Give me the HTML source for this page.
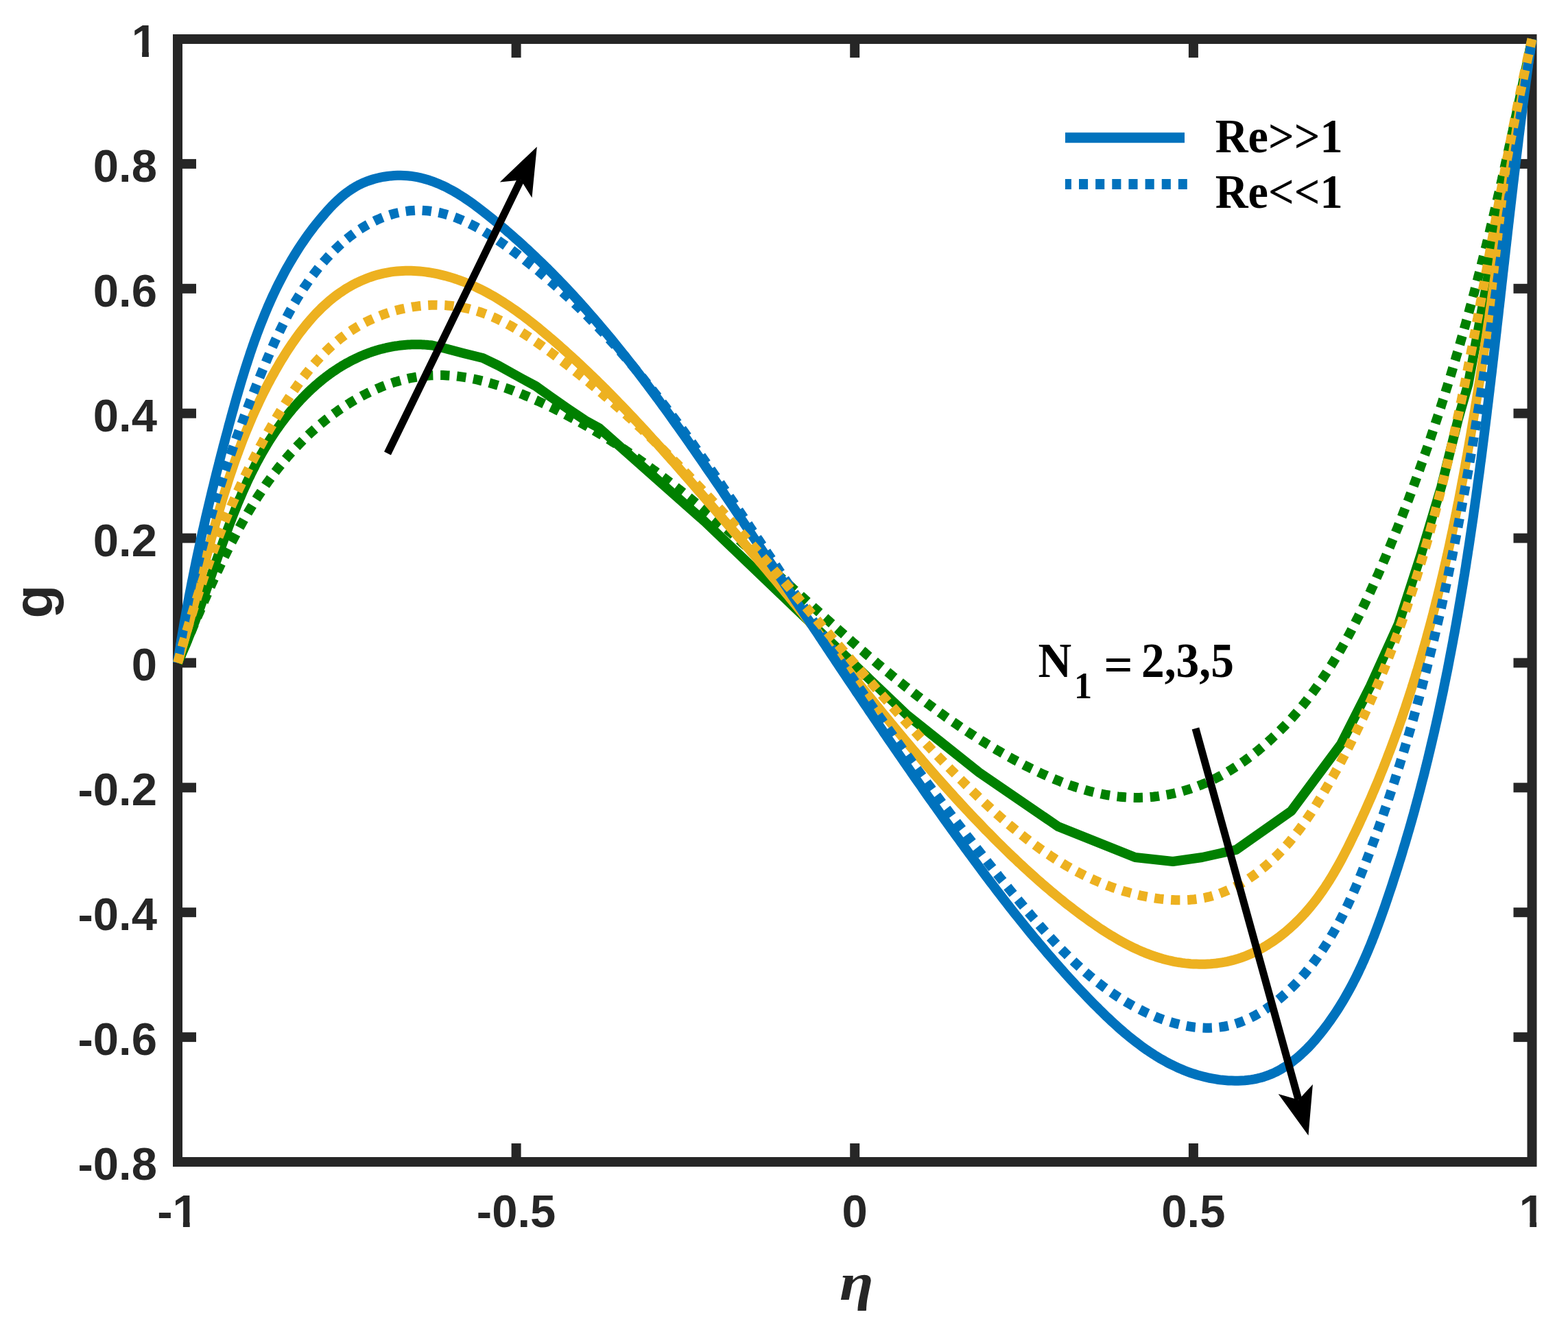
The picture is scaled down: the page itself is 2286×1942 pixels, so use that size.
<!DOCTYPE html>
<html><head><meta charset="utf-8"><style>
html,body{margin:0;padding:0;background:#fff;}
body{width:2286px;height:1942px;overflow:hidden;}
svg{display:block;}
</style></head><body>
<svg xmlns="http://www.w3.org/2000/svg" width="2286" height="1942" viewBox="0 0 2286 1942">
<rect width="2286" height="1942" fill="#fff"/>
<g stroke="#262626" stroke-width="14" fill="none">
<rect x="259.0" y="57.0" width="1974.5" height="1637.0" stroke-linejoin="miter"/>
<line x1="752.6" y1="1694.0" x2="752.6" y2="1667.0"/>
<line x1="752.6" y1="57.0" x2="752.6" y2="84.0"/>
<line x1="1246.2" y1="1694.0" x2="1246.2" y2="1667.0"/>
<line x1="1246.2" y1="57.0" x2="1246.2" y2="84.0"/>
<line x1="1739.9" y1="1694.0" x2="1739.9" y2="1667.0"/>
<line x1="1739.9" y1="57.0" x2="1739.9" y2="84.0"/>
<line x1="259.0" y1="238.9" x2="286.0" y2="238.9"/>
<line x1="2233.5" y1="238.9" x2="2206.5" y2="238.9"/>
<line x1="259.0" y1="420.8" x2="286.0" y2="420.8"/>
<line x1="2233.5" y1="420.8" x2="2206.5" y2="420.8"/>
<line x1="259.0" y1="602.7" x2="286.0" y2="602.7"/>
<line x1="2233.5" y1="602.7" x2="2206.5" y2="602.7"/>
<line x1="259.0" y1="784.6" x2="286.0" y2="784.6"/>
<line x1="2233.5" y1="784.6" x2="2206.5" y2="784.6"/>
<line x1="259.0" y1="966.4" x2="286.0" y2="966.4"/>
<line x1="2233.5" y1="966.4" x2="2206.5" y2="966.4"/>
<line x1="259.0" y1="1148.3" x2="286.0" y2="1148.3"/>
<line x1="2233.5" y1="1148.3" x2="2206.5" y2="1148.3"/>
<line x1="259.0" y1="1330.2" x2="286.0" y2="1330.2"/>
<line x1="2233.5" y1="1330.2" x2="2206.5" y2="1330.2"/>
<line x1="259.0" y1="1512.1" x2="286.0" y2="1512.1"/>
<line x1="2233.5" y1="1512.1" x2="2206.5" y2="1512.1"/>
</g>
<path d="M259.0,966.4 L260.1,964.2 L261.1,961.9 L262.1,959.6 L263.2,957.4 L264.2,955.1 L265.2,952.8 L266.2,950.5 L267.2,948.2 L268.2,945.8 L269.2,943.5 L270.2,941.2 L271.2,938.9 L272.1,936.5 L273.1,934.2 L274.0,931.9 L275.0,929.5 L275.9,927.1 L276.9,924.8 L277.8,922.4 L278.8,920.1 L279.7,917.7 L280.6,915.3 L281.5,912.9 L282.4,910.5 L283.4,908.1 L284.3,905.7 L285.2,903.3 L286.1,900.9 L287.0,898.5 L287.9,896.1 L288.7,893.7 L289.6,891.3 L290.5,888.9 L291.4,886.4 L292.3,884.0 L293.1,881.6 L294.0,879.2 L294.9,876.7 L295.7,874.3 L296.6,871.8 L297.5,869.4 L298.3,867.0 L299.2,864.5 L300.1,862.1 L300.9,859.6 L301.8,857.2 L302.6,854.7 L303.5,852.3 L304.3,849.8 L305.2,847.3 L306.0,844.9 L306.9,842.4 L307.7,840.0 L308.6,837.5 L309.4,835.0 L310.3,832.6 L311.2,830.1 L312.0,827.6 L312.9,825.2 L313.7,822.7 L314.6,820.2 L315.4,817.8 L316.3,815.3 L317.2,812.8 L318.0,810.4 L318.9,807.9 L319.8,805.4 L320.6,803.0 L321.5,800.5 L322.4,798.0 L323.2,795.6 L324.1,793.1 L325.0,790.6 L325.9,788.2 L326.8,785.7 L327.7,783.3 L328.6,780.8 L329.5,778.3 L330.4,775.9 L331.3,773.4 L332.2,771.0 L333.1,768.5 L334.0,766.1 L334.9,763.7 L335.9,761.2 L336.8,758.8 L337.7,756.3 L338.7,753.9 L339.6,751.5 L340.6,749.0 L341.6,746.6 L342.5,744.2 L343.5,741.8 L344.5,739.4 L345.4,737.0 L346.4,734.5 L347.4,732.1 L348.4,729.7 L349.4,727.3 L350.5,725.0 L351.5,722.6 L352.5,720.2 L353.5,717.8 L354.6,715.4 L355.6,713.1 L356.7,710.7 L357.8,708.3 L358.9,706.0 L359.9,703.6 L361.0,701.3 L362.1,698.9 L363.2,696.6 L364.4,694.3 L365.5,691.9 L366.6,689.6 L367.8,687.3 L368.9,685.0 L370.1,682.7 L371.3,680.4 L372.4,678.1 L373.6,675.8 L374.8,673.5 L376.1,671.3 L377.3,669.0 L378.5,666.7 L379.8,664.5 L381.0,662.2 L382.3,660.0 L383.6,657.8 L384.9,655.5 L386.2,653.3 L387.5,651.1 L388.8,648.9 L390.1,646.7 L391.5,644.5 L392.8,642.3 L394.2,640.2 L395.6,638.0 L397.0,635.9 L398.4,633.7 L399.8,631.6 L401.3,629.4 L402.7,627.3 L404.2,625.2 L405.7,623.1 L407.2,621.0 L408.7,618.9 L410.2,616.8 L411.7,614.8 L413.3,612.7 L414.8,610.7 L416.4,608.6 L418.0,606.6 L419.6,604.6 L421.2,602.6 L422.8,600.6 L424.5,598.6 L426.1,596.6 L427.8,594.7 L429.5,592.7 L431.2,590.8 L432.9,588.9 L434.6,587.0 L436.4,585.1 L438.1,583.2 L439.9,581.3 L441.7,579.5 L443.5,577.6 L445.3,575.8 L447.1,574.0 L448.9,572.2 L450.8,570.4 L452.6,568.7 L454.5,566.9 L456.4,565.2 L458.3,563.5 L460.2,561.8 L462.1,560.1 L464.1,558.5 L466.0,556.8 L468.0,555.2 L469.9,553.6 L471.9,552.0 L473.9,550.5 L475.9,548.9 L478.0,547.4 L480.0,545.9 L482.1,544.4 L484.1,542.9 L486.2,541.5 L488.3,540.1 L490.4,538.7 L492.5,537.3 L494.7,535.9 L496.8,534.6 L498.9,533.3 L501.1,532.0 L503.3,530.7 L505.5,529.5 L507.7,528.3 L509.9,527.1 L512.1,525.9 L514.4,524.8 L516.6,523.7 L518.9,522.6 L521.2,521.5 L523.4,520.4 L525.7,519.4 L528.1,518.4 L530.4,517.5 L532.7,516.5 L535.1,515.6 L537.4,514.7 L539.8,513.9 L542.2,513.0 L544.6,512.2 L547.0,511.5 L549.4,510.7 L551.8,510.0 L554.3,509.3 L556.7,508.7 L559.2,508.1 L561.7,507.5 L564.2,506.9 L566.7,506.4 L569.2,505.9 L571.7,505.4 L574.2,504.9 L576.8,504.5 L579.3,504.2 L581.9,503.8 L584.5,503.5 L587.1,503.2 L589.7,503.0 L592.3,502.8 L594.9,502.6 L597.5,502.5 L600.2,502.3 L602.8,502.3 L605.5,502.2 L608.2,502.2 L610.9,502.3 L613.6,502.3 L616.3,502.4 L619.0,502.6 L621.7,502.7 L624.5,503.0 L627.2,503.2 L630.0,503.5 L650.0,508.2 L675.5,515.0 L704.0,522.0 L726.5,532.9 L760.0,551.5 L781.3,563.0 L802.5,578.3 L828.0,596.1 L853.5,613.1 L874.0,624.4 L1027.0,760.0 L1322.5,1042.5 L1427.5,1126.2 L1542.5,1205.0 L1655.0,1250.0 L1710.0,1256.0 L1752.5,1250.0 L1802.5,1238.8 L1882.5,1182.5 L1955.0,1085.0 L1998.0,1000.0 L2038.8,910.0 L2071.2,810.0 L2101.2,710.0 L2126.2,610.0 L2140.5,560.0 L2233.5,57.0" fill="none" stroke="#008000" stroke-width="14" stroke-linejoin="round"/>
<path d="M259.0,966.4 L260.4,963.3 L261.7,960.2 L263.1,957.1 L264.4,954.0 L265.8,950.8 L267.1,947.7 L268.5,944.5 L269.8,941.4 L271.2,938.2 L272.5,935.0 L273.9,931.9 L275.2,928.7 L276.6,925.5 L277.9,922.3 L279.3,919.1 L280.6,916.0 L282.0,912.8 L283.3,909.6 L284.7,906.4 L286.1,903.2 L287.4,900.0 L288.8,896.8 L290.2,893.6 L291.6,890.4 L292.9,887.1 L294.3,883.9 L295.7,880.7 L297.1,877.5 L298.5,874.3 L299.9,871.1 L301.3,867.9 L302.7,864.7 L304.2,861.5 L305.6,858.3 L307.0,855.1 L308.4,851.8 L309.9,848.6 L311.3,845.4 L312.8,842.2 L314.3,839.0 L315.7,835.8 L317.2,832.7 L318.7,829.5 L320.2,826.3 L321.7,823.1 L323.2,819.9 L324.7,816.7 L326.3,813.6 L327.8,810.4 L329.4,807.3 L330.9,804.1 L332.5,800.9 L334.1,797.8 L335.6,794.7 L337.2,791.5 L338.9,788.4 L340.5,785.3 L342.1,782.2 L343.8,779.1 L345.4,776.0 L347.1,772.9 L348.8,769.8 L350.5,766.7 L352.2,763.6 L353.9,760.6 L355.6,757.5 L357.3,754.5 L359.1,751.5 L360.9,748.4 L362.7,745.4 L364.5,742.4 L366.3,739.4 L368.1,736.4 L369.9,733.5 L371.8,730.5 L373.7,727.6 L375.6,724.6 L377.5,721.7 L379.4,718.8 L381.3,715.9 L383.3,713.0 L385.3,710.1 L387.2,707.2 L389.2,704.4 L391.3,701.5 L393.3,698.7 L395.4,695.9 L397.4,693.1 L399.5,690.3 L401.7,687.5 L403.8,684.8 L405.9,682.0 L408.1,679.3 L410.3,676.6 L412.5,673.9 L414.7,671.2 L417.0,668.6 L419.2,665.9 L421.5,663.3 L423.8,660.7 L426.2,658.1 L428.5,655.5 L430.9,652.9 L433.3,650.4 L435.7,647.9 L438.2,645.4 L440.6,642.9 L443.1,640.4 L445.6,637.9 L448.1,635.5 L450.7,633.1 L453.3,630.7 L455.9,628.3 L458.5,626.0 L461.2,623.6 L463.8,621.3 L466.5,619.0 L469.2,616.8 L472.0,614.5 L474.7,612.3 L477.5,610.1 L480.3,608.0 L483.1,605.8 L486.0,603.7 L488.9,601.6 L491.7,599.6 L494.6,597.5 L497.6,595.5 L500.5,593.6 L503.4,591.6 L506.4,589.7 L509.4,587.9 L512.4,586.0 L515.4,584.2 L518.5,582.4 L521.5,580.7 L524.6,579.0 L527.7,577.3 L530.8,575.7 L533.9,574.1 L537.0,572.6 L540.2,571.0 L543.3,569.6 L546.5,568.1 L549.7,566.7 L552.9,565.4 L556.1,564.1 L559.3,562.8 L562.5,561.6 L565.8,560.4 L569.0,559.3 L572.3,558.2 L575.5,557.1 L578.8,556.2 L582.1,555.2 L585.4,554.3 L588.7,553.5 L592.0,552.7 L595.3,551.9 L598.6,551.2 L602.0,550.6 L605.3,550.0 L608.6,549.4 L612.0,548.9 L615.3,548.5 L618.7,548.1 L622.1,547.8 L625.4,547.5 L628.8,547.3 L632.2,547.2 L635.5,547.1 L638.9,547.0 L642.3,547.0 L645.7,547.1 L649.1,547.2 L652.4,547.4 L655.8,547.6 L659.2,547.8 L662.6,548.2 L666.0,548.5 L669.4,548.9 L672.8,549.4 L676.2,549.9 L679.6,550.4 L682.9,551.0 L686.3,551.7 L689.7,552.3 L693.1,553.0 L696.5,553.8 L699.9,554.6 L703.2,555.4 L706.6,556.3 L710.0,557.2 L713.4,558.1 L716.7,559.1 L720.1,560.1 L723.4,561.1 L726.8,562.1 L730.1,563.2 L733.5,564.4 L736.8,565.5 L740.1,566.7 L743.5,567.9 L746.8,569.1 L750.1,570.4 L753.4,571.6 L756.7,572.9 L760.0,574.3 L763.3,575.6 L766.6,577.0 L769.8,578.3 L773.1,579.7 L776.4,581.2 L779.6,582.6 L782.8,584.0 L786.1,585.5 L789.3,587.0 L792.5,588.5 L795.7,590.0 L798.9,591.5 L802.0,593.0 L805.2,594.5 L808.4,596.1 L811.5,597.7 L814.7,599.2 L817.8,600.8 L820.9,602.4 L824.0,604.0 L827.1,605.7 L830.2,607.3 L833.3,609.0 L836.4,610.6 L839.5,612.3 L842.5,614.0 L845.6,615.7 L848.6,617.4 L851.7,619.1 L854.7,620.8 L857.7,622.6 L860.7,624.3 L863.7,626.1 L866.7,627.9 L869.7,629.7 L872.7,631.5 L875.7,633.3 L878.6,635.1 L881.6,636.9 L884.5,638.7 L887.5,640.6 L890.4,642.4 L893.3,644.3 L896.3,646.2 L899.2,648.1 L902.1,650.0 L905.0,651.9 L907.9,653.8 L910.8,655.7 L913.6,657.7 L916.5,659.6 L919.4,661.5 L922.3,663.5 L925.1,665.5 L928.0,667.5 L930.8,669.4 L933.6,671.4 L936.5,673.4 L939.3,675.5 L942.1,677.5 L944.9,679.5 L947.7,681.5 L950.5,683.6 L953.3,685.6 L956.1,687.7 L958.9,689.8 L961.7,691.8 L964.4,693.9 L967.2,696.0 L970.0,698.1 L972.7,700.2 L975.5,702.3 L978.2,704.4 L981.0,706.6 L983.7,708.7 L986.4,710.8 L989.2,713.0 L991.9,715.1 L994.6,717.3 L997.3,719.5 L1000.0,721.6 L1002.7,723.8 L1005.4,726.0 L1008.1,728.2 L1010.8,730.4 L1013.5,732.6 L1016.2,734.8 L1018.9,737.0 L1021.6,739.2 L1024.2,741.4 L1026.9,743.6 L1029.6,745.9 L1032.2,748.1 L1034.9,750.3 L1037.6,752.6 L1040.2,754.8 L1042.9,757.1 L1045.5,759.4 L1048.2,761.6 L1050.8,763.9 L1053.4,766.2 L1056.1,768.4 L1058.7,770.7 L1061.3,773.0 L1064.0,775.3 L1066.6,777.6 L1069.2,779.9 L1071.8,782.2 L1074.4,784.5 L1077.1,786.8 L1079.7,789.1 L1082.3,791.4 L1084.9,793.7 L1087.5,796.0 L1090.1,798.3 L1092.7,800.7 L1095.3,803.0 L1097.9,805.3 L1100.5,807.6 L1103.1,810.0 L1105.7,812.3 L1108.3,814.6 L1110.9,817.0 L1113.5,819.3 L1116.1,821.7 L1118.7,824.0 L1121.2,826.3 L1123.8,828.7 L1126.4,831.0 L1129.0,833.4 L1131.6,835.7 L1134.2,838.1 L1136.8,840.4 L1139.3,842.8 L1141.9,845.1 L1144.5,847.5 L1147.1,849.8 L1149.7,852.2 L1152.2,854.5 L1154.8,856.9 L1157.4,859.3 L1160.0,861.6 L1162.6,864.0 L1165.2,866.3 L1167.7,868.7 L1170.3,871.0 L1172.9,873.4 L1175.5,875.7 L1178.1,878.1 L1180.7,880.4 L1183.3,882.8 L1185.8,885.1 L1188.4,887.5 L1191.0,889.8 L1193.6,892.2 L1196.2,894.5 L1198.8,896.9 L1201.4,899.2 L1204.0,901.6 L1206.6,903.9 L1209.2,906.2 L1211.8,908.6 L1214.4,910.9 L1217.0,913.2 L1219.6,915.6 L1222.2,917.9 L1224.8,920.2 L1227.4,922.5 L1230.0,924.8 L1232.7,927.2 L1235.3,929.5 L1237.9,931.8 L1240.5,934.1 L1243.1,936.4 L1245.8,938.7 L1248.4,941.0 L1251.0,943.3 L1253.7,945.6 L1256.3,947.9 L1259.0,950.1 L1261.6,952.4 L1264.2,954.7 L1266.9,957.0 L1269.6,959.2 L1272.2,961.5 L1274.9,963.7 L1277.5,966.0 L1280.2,968.3 L1282.9,970.5 L1285.6,972.7 L1288.2,975.0 L1290.9,977.2 L1293.6,979.4 L1296.3,981.6 L1299.0,983.9 L1301.7,986.1 L1304.4,988.3 L1307.1,990.5 L1309.8,992.7 L1312.5,994.8 L1315.3,997.0 L1318.0,999.2 L1320.7,1001.4 L1323.4,1003.5 L1326.2,1005.7 L1328.9,1007.8 L1331.7,1010.0 L1334.4,1012.1 L1337.2,1014.3 L1340.0,1016.4 L1342.7,1018.5 L1345.5,1020.6 L1348.3,1022.7 L1351.1,1024.8 L1353.9,1026.9 L1356.7,1029.0 L1359.5,1031.0 L1362.3,1033.1 L1365.1,1035.2 L1367.9,1037.2 L1370.7,1039.3 L1373.6,1041.3 L1376.4,1043.3 L1379.2,1045.4 L1382.1,1047.4 L1385.0,1049.4 L1387.8,1051.4 L1390.7,1053.3 L1393.6,1055.3 L1396.5,1057.3 L1399.3,1059.2 L1402.2,1061.2 L1405.1,1063.1 L1408.1,1065.1 L1411.0,1067.0 L1413.9,1068.9 L1416.8,1070.8 L1419.8,1072.7 L1422.7,1074.6 L1425.7,1076.5 L1428.6,1078.3 L1431.6,1080.2 L1434.6,1082.0 L1437.6,1083.9 L1440.6,1085.7 L1443.6,1087.5 L1446.6,1089.3 L1449.6,1091.1 L1452.6,1092.9 L1455.6,1094.7 L1458.7,1096.4 L1461.7,1098.2 L1464.8,1099.9 L1467.8,1101.7 L1470.9,1103.4 L1474.0,1105.1 L1477.1,1106.8 L1480.2,1108.5 L1483.3,1110.1 L1486.4,1111.8 L1489.5,1113.4 L1492.7,1115.1 L1495.8,1116.7 L1499.0,1118.3 L1502.1,1119.9 L1505.3,1121.4 L1508.5,1123.0 L1511.7,1124.5 L1514.8,1126.0 L1518.0,1127.5 L1521.2,1129.0 L1524.5,1130.4 L1527.7,1131.9 L1530.9,1133.3 L1534.1,1134.6 L1537.4,1136.0 L1540.6,1137.3 L1543.9,1138.6 L1547.1,1139.9 L1550.4,1141.2 L1553.6,1142.4 L1556.9,1143.6 L1560.2,1144.8 L1563.5,1145.9 L1566.8,1147.0 L1570.1,1148.1 L1573.4,1149.1 L1576.7,1150.1 L1580.0,1151.1 L1583.3,1152.1 L1586.7,1153.0 L1590.0,1153.9 L1593.3,1154.7 L1596.7,1155.5 L1600.0,1156.3 L1603.4,1157.0 L1606.7,1157.7 L1610.1,1158.3 L1613.4,1159.0 L1616.8,1159.5 L1620.2,1160.0 L1623.5,1160.5 L1626.9,1161.0 L1630.3,1161.4 L1633.7,1161.7 L1637.1,1162.0 L1640.5,1162.3 L1643.8,1162.5 L1647.2,1162.7 L1650.6,1162.8 L1654.0,1162.9 L1657.5,1162.9 L1660.9,1162.9 L1664.3,1162.8 L1667.7,1162.7 L1671.1,1162.5 L1674.5,1162.3 L1677.9,1162.0 L1681.3,1161.7 L1684.7,1161.3 L1688.2,1160.9 L1691.6,1160.4 L1695.0,1159.9 L1698.4,1159.3 L1701.8,1158.7 L1705.1,1158.1 L1708.5,1157.3 L1711.9,1156.6 L1715.3,1155.8 L1718.6,1154.9 L1722.0,1154.1 L1725.3,1153.1 L1728.7,1152.1 L1732.0,1151.1 L1735.3,1150.1 L1738.6,1148.9 L1741.9,1147.8 L1745.2,1146.6 L1748.5,1145.3 L1751.7,1144.1 L1754.9,1142.7 L1758.2,1141.4 L1761.4,1140.0 L1764.6,1138.5 L1767.7,1137.0 L1770.9,1135.5 L1774.0,1133.9 L1777.1,1132.3 L1780.2,1130.7 L1783.3,1129.0 L1786.4,1127.3 L1789.4,1125.5 L1792.4,1123.7 L1795.4,1121.9 L1798.4,1120.0 L1801.4,1118.1 L1804.3,1116.2 L1807.2,1114.2 L1810.1,1112.2 L1813.0,1110.2 L1815.9,1108.2 L1818.7,1106.1 L1821.5,1104.0 L1824.3,1101.9 L1827.1,1099.8 L1829.8,1097.6 L1832.6,1095.4 L1835.3,1093.2 L1837.9,1091.0 L1840.6,1088.7 L1843.2,1086.5 L1845.9,1084.2 L1848.5,1081.9 L1851.0,1079.5 L1853.6,1077.2 L1856.1,1074.8 L1858.7,1072.4 L1861.1,1070.0 L1863.6,1067.6 L1866.1,1065.2 L1868.5,1062.7 L1870.9,1060.3 L1873.3,1057.8 L1875.7,1055.3 L1878.0,1052.8 L1880.4,1050.2 L1882.7,1047.7 L1885.0,1045.1 L1887.3,1042.5 L1889.5,1039.9 L1891.8,1037.3 L1894.0,1034.7 L1896.2,1032.0 L1898.4,1029.4 L1900.6,1026.7 L1902.7,1024.0 L1904.9,1021.3 L1907.0,1018.6 L1909.1,1015.8 L1911.2,1013.1 L1913.3,1010.3 L1915.3,1007.5 L1917.3,1004.7 L1919.4,1001.9 L1921.4,999.1 L1923.4,996.3 L1925.3,993.4 L1927.3,990.6 L1929.2,987.7 L1931.2,984.8 L1933.1,982.0 L1935.0,979.1 L1936.9,976.1 L1938.7,973.2 L1940.6,970.3 L1942.4,967.3 L1944.3,964.4 L1946.1,961.4 L1947.9,958.4 L1949.7,955.4 L1951.5,952.5 L1953.2,949.4 L1955.0,946.4 L1956.7,943.4 L1958.4,940.4 L1960.1,937.3 L1961.8,934.3 L1963.5,931.2 L1965.2,928.1 L1966.9,925.1 L1968.5,922.0 L1970.2,918.9 L1971.8,915.8 L1973.4,912.7 L1975.0,909.6 L1976.6,906.4 L1978.2,903.3 L1979.8,900.2 L1981.4,897.0 L1982.9,893.9 L1984.5,890.7 L1986.0,887.6 L1987.6,884.4 L1989.1,881.2 L1990.6,878.1 L1992.1,874.9 L1993.6,871.7 L1995.1,868.5 L1996.6,865.3 L1998.1,862.1 L1999.5,858.9 L2001.0,855.7 L2002.4,852.5 L2003.9,849.3 L2005.3,846.0 L2006.7,842.8 L2008.1,839.6 L2009.6,836.4 L2011.0,833.1 L2012.4,829.9 L2013.8,826.7 L2015.2,823.4 L2016.5,820.2 L2017.9,817.0 L2019.3,813.7 L2020.7,810.5 L2022.0,807.2 L2023.4,804.0 L2024.7,800.8 L2026.1,797.5 L2027.4,794.3 L2028.7,791.0 L2030.1,787.8 L2031.4,784.5 L2032.7,781.3 L2034.0,778.0 L2035.3,774.7 L2036.7,771.5 L2038.0,768.2 L2039.2,765.0 L2040.5,761.7 L2041.8,758.5 L2043.1,755.2 L2044.4,751.9 L2045.6,748.7 L2046.9,745.4 L2048.2,742.1 L2049.4,738.9 L2050.7,735.6 L2051.9,732.3 L2053.2,729.1 L2054.4,725.8 L2055.6,722.5 L2056.9,719.3 L2058.1,716.0 L2059.3,712.7 L2060.5,709.4 L2061.7,706.2 L2062.9,702.9 L2064.1,699.6 L2065.3,696.3 L2066.5,693.0 L2067.7,689.8 L2068.9,686.5 L2070.1,683.2 L2071.2,679.9 L2072.4,676.6 L2073.6,673.3 L2074.7,670.1 L2075.9,666.8 L2077.0,663.5 L2078.2,660.2 L2079.3,656.9 L2080.5,653.6 L2081.6,650.3 L2082.7,647.0 L2083.9,643.7 L2085.0,640.4 L2086.1,637.1 L2087.2,633.8 L2088.3,630.5 L2089.4,627.2 L2090.5,623.9 L2091.6,620.6 L2092.7,617.3 L2093.8,614.0 L2094.9,610.7 L2096.0,607.4 L2097.1,604.1 L2098.1,600.8 L2099.2,597.5 L2100.3,594.2 L2101.3,590.8 L2102.4,587.5 L2103.4,584.2 L2104.5,580.9 L2105.5,577.6 L2106.6,574.3 L2107.6,571.0 L2108.6,567.6 L2109.7,564.3 L2110.7,561.0 L2111.7,557.7 L2112.7,554.4 L2113.8,551.0 L2114.8,547.7 L2115.8,544.4 L2116.8,541.1 L2117.8,537.7 L2118.8,534.4 L2119.8,531.1 L2120.8,527.7 L2121.8,524.4 L2122.7,521.1 L2123.7,517.8 L2124.7,514.4 L2125.7,511.1 L2126.6,507.7 L2127.6,504.4 L2128.6,501.1 L2129.5,497.7 L2130.5,494.4 L2131.4,491.1 L2132.4,487.7 L2133.3,484.4 L2134.3,481.0 L2135.2,477.7 L2136.2,474.3 L2137.1,471.0 L2138.0,467.7 L2139.0,464.3 L2139.9,461.0 L2140.8,457.6 L2141.7,454.3 L2142.6,450.9 L2143.5,447.6 L2144.5,444.2 L2145.4,440.9 L2146.3,437.5 L2147.2,434.2 L2148.1,430.8 L2149.0,427.4 L2149.9,424.1 L2150.7,420.7 L2151.6,417.4 L2152.5,414.0 L2153.4,410.6 L2154.3,407.3 L2155.1,403.9 L2156.0,400.6 L2156.9,397.2 L2157.8,393.8 L2158.6,390.5 L2159.5,387.1 L2160.3,383.7 L2161.2,380.4 L2162.0,377.0 L2162.9,373.6 L2163.7,370.3 L2164.6,366.9 L2165.4,363.5 L2166.3,360.1 L2167.1,356.8 L2168.0,353.4 L2168.8,350.0 L2169.6,346.6 L2170.4,343.3 L2171.3,339.9 L2172.1,336.5 L2172.9,333.1 L2173.7,329.7 L2174.6,326.4 L2175.4,323.0 L2176.2,319.6 L2177.0,316.2 L2177.8,312.8 L2178.6,309.5 L2179.4,306.1 L2180.2,302.7 L2181.0,299.3 L2181.8,295.9 L2182.6,292.5 L2183.4,289.1 L2184.2,285.7 L2185.0,282.3 L2185.8,279.0 L2186.5,275.6 L2187.3,272.2 L2188.1,268.8 L2188.9,265.4 L2189.7,262.0 L2190.4,258.6 L2191.2,255.2 L2192.0,251.8 L2192.7,248.4 L2193.5,245.0 L2194.3,241.6 L2195.0,238.2 L2195.8,234.8 L2196.6,231.4 L2197.3,228.0 L2198.1,224.6 L2198.8,221.2 L2199.6,217.8 L2200.3,214.4 L2201.1,211.0 L2201.8,207.6 L2202.6,204.2 L2203.3,200.7 L2204.1,197.3 L2204.8,193.9 L2205.6,190.5 L2206.3,187.1 L2207.0,183.7 L2207.8,180.3 L2208.5,176.9 L2209.2,173.5 L2210.0,170.0 L2210.7,166.6 L2211.4,163.2 L2212.2,159.8 L2212.9,156.4 L2213.6,153.0 L2214.3,149.5 L2215.1,146.1 L2215.8,142.7 L2216.5,139.3 L2217.2,135.9 L2217.9,132.4 L2218.7,129.0 L2219.4,125.6 L2220.1,122.2 L2220.8,118.7 L2221.5,115.3 L2222.2,111.9 L2222.9,108.5 L2223.7,105.0 L2224.4,101.6 L2225.1,98.2 L2225.8,94.8 L2226.5,91.3 L2227.2,87.9 L2227.9,84.5 L2228.6,81.0 L2229.3,77.6 L2230.0,74.2 L2230.7,70.7 L2231.4,67.3 L2232.1,63.9 L2232.8,60.4 L2233.5,57.0" fill="none" stroke="#008000" stroke-width="14" stroke-linejoin="round" stroke-dasharray="13.3 10.8"/>
<path d="M259.0,966.4 L260.2,962.4 L261.4,958.3 L262.6,954.3 L263.8,950.2 L265.0,946.2 L266.1,942.1 L267.3,938.0 L268.4,934.0 L269.6,929.9 L270.7,925.8 L271.8,921.8 L273.0,917.7 L274.1,913.6 L275.2,909.6 L276.3,905.5 L277.4,901.4 L278.5,897.3 L279.6,893.3 L280.6,889.2 L281.7,885.1 L282.8,881.0 L283.9,877.0 L284.9,872.9 L286.0,868.8 L287.1,864.7 L288.1,860.7 L289.2,856.6 L290.3,852.5 L291.3,848.5 L292.4,844.4 L293.5,840.3 L294.5,836.3 L295.6,832.2 L296.7,828.1 L297.7,824.1 L298.8,820.0 L299.9,815.9 L300.9,811.9 L302.0,807.8 L303.1,803.8 L304.2,799.7 L305.3,795.6 L306.4,791.6 L307.4,787.5 L308.5,783.5 L309.7,779.5 L310.8,775.4 L311.9,771.4 L313.0,767.3 L314.1,763.3 L315.3,759.3 L316.4,755.2 L317.6,751.2 L318.7,747.2 L319.9,743.2 L321.1,739.2 L322.3,735.1 L323.5,731.1 L324.7,727.1 L325.9,723.1 L327.1,719.1 L328.4,715.1 L329.6,711.1 L330.9,707.2 L332.1,703.2 L333.4,699.2 L334.7,695.2 L336.0,691.3 L337.4,687.3 L338.7,683.3 L340.1,679.4 L341.4,675.4 L342.8,671.5 L344.2,667.5 L345.6,663.6 L347.1,659.7 L348.5,655.7 L350.0,651.8 L351.4,647.9 L352.9,644.0 L354.4,640.1 L356.0,636.2 L357.5,632.3 L359.1,628.4 L360.7,624.5 L362.3,620.7 L363.9,616.8 L365.6,612.9 L367.2,609.1 L368.9,605.2 L370.6,601.4 L372.3,597.6 L374.1,593.7 L375.9,589.9 L377.7,586.1 L379.5,582.3 L381.3,578.5 L383.2,574.7 L385.1,570.9 L387.0,567.2 L388.9,563.4 L390.9,559.6 L392.9,555.9 L394.9,552.1 L396.9,548.4 L399.0,544.7 L401.1,540.9 L403.2,537.2 L405.4,533.5 L407.5,529.8 L409.7,526.1 L412.0,522.5 L414.2,518.8 L416.5,515.1 L418.8,511.5 L421.2,507.9 L423.6,504.3 L426.0,500.7 L428.5,497.2 L430.9,493.7 L433.4,490.2 L436.0,486.7 L438.6,483.3 L441.2,479.9 L443.9,476.5 L446.6,473.2 L449.3,470.0 L452.1,466.7 L454.9,463.5 L457.7,460.4 L460.6,457.3 L463.6,454.3 L466.5,451.3 L469.5,448.3 L472.6,445.5 L475.7,442.7 L478.8,439.9 L482.0,437.2 L485.3,434.6 L488.5,432.0 L491.9,429.5 L495.2,427.1 L498.7,424.8 L502.1,422.5 L505.6,420.3 L509.2,418.2 L512.8,416.2 L516.4,414.2 L520.1,412.3 L523.8,410.6 L527.6,408.9 L531.3,407.3 L535.2,405.7 L539.0,404.3 L542.9,403.0 L546.8,401.7 L550.7,400.6 L554.7,399.6 L558.7,398.6 L562.7,397.8 L566.7,397.1 L570.7,396.4 L574.8,395.9 L578.8,395.5 L582.9,395.2 L587.0,394.9 L591.1,394.8 L595.2,394.8 L599.4,394.8 L603.5,395.0 L607.6,395.2 L611.8,395.5 L615.9,395.9 L620.0,396.4 L624.2,397.0 L628.3,397.7 L632.4,398.4 L636.6,399.2 L640.7,400.1 L644.8,401.1 L648.9,402.1 L653.0,403.2 L657.0,404.4 L661.1,405.7 L665.1,407.0 L669.1,408.4 L673.1,409.8 L677.1,411.3 L681.1,412.9 L685.0,414.6 L688.9,416.2 L692.8,418.0 L696.6,419.8 L700.4,421.6 L704.2,423.5 L708.0,425.5 L711.7,427.5 L715.4,429.6 L719.1,431.6 L722.8,433.8 L726.4,436.0 L730.0,438.2 L733.6,440.5 L737.2,442.8 L740.7,445.1 L744.3,447.5 L747.8,449.9 L751.2,452.3 L754.7,454.8 L758.1,457.3 L761.6,459.8 L765.0,462.4 L768.3,464.9 L771.7,467.5 L775.1,470.2 L778.4,472.8 L781.7,475.5 L785.0,478.1 L788.3,480.8 L791.6,483.6 L794.8,486.3 L798.1,489.0 L801.3,491.8 L804.6,494.5 L807.8,497.3 L811.0,500.1 L814.2,502.8 L817.3,505.6 L820.5,508.4 L823.7,511.3 L826.8,514.1 L829.9,516.9 L833.0,519.7 L836.2,522.6 L839.3,525.4 L842.3,528.3 L845.4,531.2 L848.5,534.1 L851.6,537.0 L854.6,539.8 L857.7,542.8 L860.7,545.7 L863.7,548.6 L866.7,551.5 L869.7,554.4 L872.7,557.4 L875.7,560.3 L878.7,563.3 L881.7,566.2 L884.6,569.2 L887.6,572.2 L890.5,575.2 L893.5,578.2 L896.4,581.1 L899.3,584.1 L902.2,587.2 L905.1,590.2 L908.0,593.2 L910.9,596.2 L913.8,599.2 L916.7,602.3 L919.6,605.3 L922.5,608.4 L925.3,611.4 L928.2,614.5 L931.0,617.5 L933.9,620.6 L936.7,623.7 L939.6,626.7 L942.4,629.8 L945.2,632.9 L948.0,636.0 L950.8,639.1 L953.7,642.2 L956.5,645.3 L959.3,648.4 L962.1,651.5 L964.9,654.6 L967.7,657.8 L970.4,660.9 L973.2,664.0 L976.0,667.1 L978.8,670.3 L981.6,673.4 L984.3,676.5 L987.1,679.7 L989.9,682.8 L992.6,686.0 L995.4,689.1 L998.2,692.3 L1000.9,695.4 L1003.7,698.6 L1006.4,701.7 L1009.2,704.9 L1011.9,708.1 L1014.7,711.2 L1017.4,714.4 L1020.2,717.6 L1022.9,720.7 L1025.7,723.9 L1028.4,727.1 L1031.2,730.2 L1033.9,733.4 L1036.7,736.6 L1039.4,739.8 L1042.2,743.0 L1044.9,746.1 L1047.7,749.3 L1050.4,752.5 L1053.2,755.7 L1055.9,758.9 L1058.7,762.0 L1061.4,765.2 L1064.2,768.4 L1066.9,771.6 L1069.7,774.8 L1072.4,777.9 L1075.2,781.1 L1077.9,784.3 L1080.7,787.5 L1083.5,790.7 L1086.2,793.9 L1089.0,797.1 L1091.7,800.2 L1094.4,803.4 L1097.2,806.6 L1099.9,809.8 L1102.7,813.0 L1105.4,816.2 L1108.1,819.4 L1110.8,822.6 L1113.6,825.8 L1116.3,829.0 L1119.0,832.2 L1121.7,835.5 L1124.4,838.7 L1127.1,841.9 L1129.8,845.1 L1132.5,848.3 L1135.2,851.6 L1137.8,854.8 L1140.5,858.0 L1143.2,861.3 L1145.8,864.5 L1148.5,867.7 L1151.1,871.0 L1153.8,874.2 L1156.4,877.5 L1159.1,880.7 L1161.7,884.0 L1164.3,887.2 L1167.0,890.5 L1169.6,893.7 L1172.2,897.0 L1174.9,900.2 L1177.5,903.5 L1180.1,906.8 L1182.7,910.0 L1185.3,913.3 L1188.0,916.6 L1190.6,919.8 L1193.2,923.1 L1195.8,926.4 L1198.4,929.7 L1201.1,932.9 L1203.7,936.2 L1206.3,939.5 L1208.9,942.8 L1211.5,946.0 L1214.1,949.3 L1216.8,952.6 L1219.4,955.9 L1222.0,959.2 L1224.6,962.4 L1227.3,965.7 L1229.9,969.0 L1232.5,972.3 L1235.1,975.6 L1237.8,978.9 L1240.4,982.1 L1243.0,985.4 L1245.7,988.7 L1248.3,992.0 L1250.9,995.3 L1253.6,998.5 L1256.2,1001.8 L1258.9,1005.1 L1261.5,1008.4 L1264.2,1011.7 L1266.8,1014.9 L1269.5,1018.2 L1272.1,1021.5 L1274.8,1024.7 L1277.4,1028.0 L1280.1,1031.3 L1282.8,1034.5 L1285.4,1037.8 L1288.1,1041.1 L1290.8,1044.3 L1293.4,1047.6 L1296.1,1050.8 L1298.8,1054.1 L1301.5,1057.3 L1304.2,1060.6 L1306.9,1063.8 L1309.5,1067.1 L1312.2,1070.3 L1314.9,1073.5 L1317.6,1076.8 L1320.4,1080.0 L1323.1,1083.2 L1325.8,1086.5 L1328.5,1089.7 L1331.2,1092.9 L1333.9,1096.1 L1336.7,1099.3 L1339.4,1102.5 L1342.2,1105.7 L1344.9,1108.9 L1347.6,1112.1 L1350.4,1115.3 L1353.1,1118.5 L1355.9,1121.6 L1358.7,1124.8 L1361.4,1128.0 L1364.2,1131.1 L1367.0,1134.3 L1369.8,1137.4 L1372.6,1140.6 L1375.4,1143.7 L1378.2,1146.9 L1381.0,1150.0 L1383.8,1153.1 L1386.6,1156.2 L1389.4,1159.3 L1392.2,1162.5 L1395.1,1165.6 L1397.9,1168.6 L1400.7,1171.7 L1403.6,1174.8 L1406.4,1177.9 L1409.3,1181.0 L1412.2,1184.0 L1415.0,1187.1 L1417.9,1190.1 L1420.8,1193.2 L1423.7,1196.2 L1426.6,1199.2 L1429.5,1202.2 L1432.4,1205.3 L1435.3,1208.3 L1438.2,1211.3 L1441.2,1214.2 L1444.1,1217.2 L1447.0,1220.2 L1450.0,1223.2 L1452.9,1226.1 L1455.9,1229.1 L1458.9,1232.0 L1461.8,1234.9 L1464.8,1237.9 L1467.8,1240.8 L1470.8,1243.7 L1473.8,1246.6 L1476.8,1249.5 L1479.9,1252.3 L1482.9,1255.2 L1485.9,1258.1 L1489.0,1260.9 L1492.0,1263.8 L1495.1,1266.6 L1498.2,1269.4 L1501.3,1272.2 L1504.4,1275.0 L1507.5,1277.8 L1510.6,1280.6 L1513.8,1283.4 L1516.9,1286.1 L1520.1,1288.9 L1523.2,1291.6 L1526.4,1294.3 L1529.6,1297.1 L1532.8,1299.8 L1536.1,1302.5 L1539.3,1305.1 L1542.6,1307.8 L1545.8,1310.5 L1549.1,1313.1 L1552.4,1315.8 L1555.7,1318.4 L1559.1,1321.0 L1562.4,1323.6 L1565.8,1326.2 L1569.2,1328.8 L1572.6,1331.3 L1576.0,1333.9 L1579.4,1336.4 L1582.9,1338.9 L1586.4,1341.5 L1589.9,1343.9 L1593.4,1346.4 L1596.9,1348.8 L1600.4,1351.3 L1604.0,1353.7 L1607.6,1356.0 L1611.2,1358.3 L1614.8,1360.6 L1618.4,1362.9 L1622.1,1365.1 L1625.8,1367.3 L1629.5,1369.5 L1633.2,1371.6 L1636.9,1373.6 L1640.6,1375.6 L1644.4,1377.6 L1648.2,1379.5 L1652.0,1381.4 L1655.8,1383.2 L1659.7,1385.0 L1663.5,1386.7 L1667.4,1388.3 L1671.3,1389.9 L1675.2,1391.4 L1679.1,1392.8 L1683.1,1394.2 L1687.1,1395.5 L1691.1,1396.7 L1695.1,1397.9 L1699.1,1399.0 L1703.1,1400.0 L1707.2,1400.9 L1711.3,1401.8 L1715.4,1402.6 L1719.5,1403.2 L1723.6,1403.9 L1727.7,1404.4 L1731.9,1404.8 L1736.0,1405.2 L1740.2,1405.5 L1744.3,1405.6 L1748.4,1405.7 L1752.6,1405.8 L1756.7,1405.7 L1760.8,1405.5 L1765.0,1405.3 L1769.1,1404.9 L1773.2,1404.5 L1777.3,1403.9 L1781.3,1403.3 L1785.4,1402.6 L1789.4,1401.8 L1793.4,1400.9 L1797.4,1399.9 L1801.4,1398.8 L1805.3,1397.6 L1809.2,1396.3 L1813.1,1394.9 L1816.9,1393.4 L1820.8,1391.8 L1824.6,1390.2 L1828.3,1388.4 L1832.0,1386.6 L1835.7,1384.7 L1839.4,1382.7 L1843.0,1380.6 L1846.6,1378.5 L1850.2,1376.2 L1853.7,1373.9 L1857.2,1371.6 L1860.6,1369.1 L1864.0,1366.7 L1867.4,1364.1 L1870.7,1361.5 L1874.0,1358.8 L1877.3,1356.0 L1880.5,1353.2 L1883.6,1350.4 L1886.8,1347.5 L1889.8,1344.5 L1892.9,1341.5 L1895.8,1338.5 L1898.8,1335.4 L1901.7,1332.3 L1904.5,1329.1 L1907.3,1325.9 L1910.0,1322.7 L1912.7,1319.4 L1915.4,1316.1 L1918.0,1312.7 L1920.5,1309.4 L1923.1,1305.9 L1925.5,1302.5 L1927.9,1299.1 L1930.3,1295.6 L1932.7,1292.1 L1935.0,1288.5 L1937.3,1285.0 L1939.5,1281.4 L1941.7,1277.8 L1943.9,1274.2 L1946.0,1270.5 L1948.1,1266.9 L1950.2,1263.2 L1952.3,1259.5 L1954.3,1255.8 L1956.3,1252.1 L1958.3,1248.3 L1960.2,1244.6 L1962.2,1240.8 L1964.1,1237.1 L1966.0,1233.3 L1967.9,1229.5 L1969.7,1225.7 L1971.6,1221.9 L1973.4,1218.1 L1975.3,1214.3 L1977.1,1210.5 L1978.9,1206.7 L1980.7,1202.9 L1982.5,1199.0 L1984.2,1195.2 L1986.0,1191.4 L1987.7,1187.5 L1989.5,1183.7 L1991.2,1179.9 L1992.9,1176.0 L1994.6,1172.2 L1996.3,1168.3 L1998.0,1164.5 L1999.7,1160.6 L2001.3,1156.7 L2003.0,1152.9 L2004.6,1149.0 L2006.2,1145.1 L2007.9,1141.2 L2009.5,1137.3 L2011.1,1133.5 L2012.6,1129.6 L2014.2,1125.7 L2015.8,1121.8 L2017.3,1117.9 L2018.9,1114.0 L2020.4,1110.1 L2021.9,1106.2 L2023.4,1102.2 L2024.9,1098.3 L2026.4,1094.4 L2027.9,1090.5 L2029.4,1086.5 L2030.8,1082.6 L2032.3,1078.7 L2033.7,1074.7 L2035.2,1070.8 L2036.6,1066.9 L2038.0,1062.9 L2039.4,1059.0 L2040.8,1055.0 L2042.2,1051.0 L2043.6,1047.1 L2044.9,1043.1 L2046.3,1039.2 L2047.6,1035.2 L2049.0,1031.2 L2050.3,1027.2 L2051.6,1023.3 L2052.9,1019.3 L2054.2,1015.3 L2055.5,1011.3 L2056.8,1007.3 L2058.1,1003.3 L2059.3,999.3 L2060.6,995.3 L2061.8,991.3 L2063.1,987.3 L2064.3,983.3 L2065.5,979.3 L2066.8,975.3 L2068.0,971.3 L2069.2,967.3 L2070.4,963.2 L2071.5,959.2 L2072.7,955.2 L2073.9,951.2 L2075.0,947.1 L2076.2,943.1 L2077.3,939.1 L2078.5,935.0 L2079.6,931.0 L2080.7,926.9 L2081.8,922.9 L2082.9,918.8 L2084.0,914.8 L2085.1,910.7 L2086.2,906.7 L2087.3,902.6 L2088.3,898.6 L2089.4,894.5 L2090.4,890.4 L2091.5,886.4 L2092.5,882.3 L2093.5,878.2 L2094.6,874.2 L2095.6,870.1 L2096.6,866.0 L2097.6,861.9 L2098.6,857.8 L2099.6,853.8 L2100.6,849.7 L2101.5,845.6 L2102.5,841.5 L2103.5,837.4 L2104.4,833.3 L2105.4,829.2 L2106.3,825.1 L2107.3,821.0 L2108.2,816.9 L2109.1,812.8 L2110.1,808.7 L2111.0,804.6 L2111.9,800.5 L2112.8,796.4 L2113.7,792.2 L2114.6,788.1 L2115.4,784.0 L2116.3,779.9 L2117.2,775.8 L2118.1,771.7 L2118.9,767.5 L2119.8,763.4 L2120.6,759.3 L2121.5,755.2 L2122.3,751.0 L2123.2,746.9 L2124.0,742.8 L2124.8,738.6 L2125.6,734.5 L2126.5,730.4 L2127.3,726.2 L2128.1,722.1 L2128.9,717.9 L2129.7,713.8 L2130.5,709.7 L2131.2,705.5 L2132.0,701.4 L2132.8,697.2 L2133.6,693.1 L2134.4,688.9 L2135.1,684.8 L2135.9,680.6 L2136.6,676.5 L2137.4,672.3 L2138.1,668.1 L2138.9,664.0 L2139.6,659.8 L2140.3,655.7 L2141.1,651.5 L2141.8,647.4 L2142.5,643.2 L2143.3,639.0 L2144.0,634.9 L2144.7,630.7 L2145.4,626.5 L2146.1,622.4 L2146.8,618.2 L2147.5,614.0 L2148.2,609.9 L2148.9,605.7 L2149.6,601.5 L2150.3,597.4 L2150.9,593.2 L2151.6,589.0 L2152.3,584.8 L2153.0,580.7 L2153.6,576.5 L2154.3,572.3 L2155.0,568.1 L2155.6,564.0 L2156.3,559.8 L2157.0,555.6 L2157.6,551.4 L2158.3,547.3 L2158.9,543.1 L2159.6,538.9 L2160.2,534.7 L2160.8,530.5 L2161.5,526.4 L2162.1,522.2 L2162.8,518.0 L2163.4,513.8 L2164.0,509.6 L2164.7,505.5 L2165.3,501.3 L2165.9,497.1 L2166.5,492.9 L2167.2,488.7 L2167.8,484.5 L2168.4,480.4 L2169.0,476.2 L2169.6,472.0 L2170.2,467.8 L2170.9,463.6 L2171.5,459.4 L2172.1,455.3 L2172.7,451.1 L2173.3,446.9 L2173.9,442.7 L2174.5,438.5 L2175.1,434.3 L2175.7,430.2 L2176.3,426.0 L2176.9,421.8 L2177.5,417.6 L2178.1,413.4 L2178.7,409.3 L2179.3,405.1 L2179.9,400.9 L2180.5,396.7 L2181.1,392.5 L2181.7,388.3 L2182.3,384.2 L2182.9,380.0 L2183.5,375.8 L2184.1,371.6 L2184.7,367.5 L2185.3,363.3 L2185.9,359.1 L2186.5,354.9 L2187.1,350.7 L2187.7,346.6 L2188.3,342.4 L2188.9,338.2 L2189.5,334.0 L2190.1,329.9 L2190.7,325.7 L2191.3,321.5 L2191.9,317.4 L2192.5,313.2 L2193.1,309.0 L2193.7,304.9 L2194.3,300.7 L2194.9,296.5 L2195.5,292.4 L2196.2,288.2 L2196.8,284.0 L2197.4,279.9 L2198.0,275.7 L2198.6,271.5 L2199.2,267.4 L2199.8,263.2 L2200.4,259.1 L2201.1,254.9 L2201.7,250.7 L2202.3,246.6 L2202.9,242.4 L2203.5,238.3 L2204.2,234.1 L2204.8,230.0 L2205.4,225.8 L2206.0,221.7 L2206.7,217.5 L2207.3,213.4 L2208.0,209.2 L2208.6,205.1 L2209.2,201.0 L2209.9,196.8 L2210.5,192.7 L2211.2,188.5 L2211.8,184.4 L2212.5,180.3 L2213.1,176.1 L2213.8,172.0 L2214.5,167.9 L2215.1,163.7 L2215.8,159.6 L2216.4,155.5 L2217.1,151.4 L2217.8,147.2 L2218.5,143.1 L2219.2,139.0 L2219.8,134.9 L2220.5,130.8 L2221.2,126.7 L2221.9,122.5 L2222.6,118.4 L2223.3,114.3 L2224.0,110.2 L2224.7,106.1 L2225.4,102.0 L2226.1,97.9 L2226.9,93.8 L2227.6,89.7 L2228.3,85.6 L2229.0,81.5 L2229.8,77.4 L2230.5,73.3 L2231.3,69.3 L2232.0,65.2 L2232.7,61.1 L2233.5,57.0" fill="none" stroke="#EDB120" stroke-width="14" stroke-linejoin="round"/>
<path d="M259.0,966.4 L259.7,961.7 L260.5,956.9 L261.2,952.1 L262.0,947.4 L262.8,942.6 L263.6,937.8 L264.3,933.1 L265.1,928.3 L265.9,923.6 L266.8,918.9 L267.6,914.1 L268.4,909.4 L269.2,904.7 L270.1,900.0 L270.9,895.3 L271.8,890.6 L272.6,885.8 L273.5,881.1 L274.4,876.4 L275.3,871.8 L276.2,867.1 L277.1,862.4 L278.0,857.7 L278.9,853.0 L279.8,848.3 L280.8,843.6 L281.7,839.0 L282.7,834.3 L283.6,829.6 L284.6,825.0 L285.5,820.3 L286.5,815.7 L287.5,811.0 L288.5,806.3 L289.5,801.7 L290.5,797.0 L291.5,792.4 L292.5,787.7 L293.5,783.1 L294.6,778.4 L295.6,773.8 L296.7,769.2 L297.7,764.5 L298.8,759.9 L299.8,755.2 L300.9,750.6 L302.0,746.0 L303.1,741.3 L304.2,736.7 L305.3,732.1 L306.4,727.4 L307.5,722.8 L308.6,718.2 L309.7,713.5 L310.9,708.9 L312.0,704.3 L313.1,699.6 L314.3,695.0 L315.4,690.4 L316.6,685.7 L317.8,681.1 L319.0,676.5 L320.1,671.8 L321.3,667.2 L322.5,662.5 L323.7,657.9 L324.9,653.3 L326.1,648.6 L327.4,644.0 L328.6,639.3 L329.8,634.7 L331.1,630.0 L332.3,625.4 L333.5,620.7 L334.8,616.1 L336.1,611.4 L337.3,606.8 L338.6,602.1 L339.9,597.5 L341.2,592.8 L342.5,588.2 L343.8,583.5 L345.1,578.9 L346.5,574.2 L347.8,569.6 L349.2,564.9 L350.5,560.3 L351.9,555.7 L353.3,551.0 L354.8,546.4 L356.2,541.8 L357.6,537.2 L359.1,532.6 L360.6,528.0 L362.1,523.4 L363.6,518.8 L365.1,514.2 L366.7,509.7 L368.2,505.1 L369.8,500.6 L371.4,496.0 L373.1,491.5 L374.7,487.0 L376.4,482.5 L378.1,478.0 L379.8,473.5 L381.6,469.1 L383.4,464.6 L385.2,460.2 L387.0,455.7 L388.9,451.3 L390.7,446.9 L392.6,442.6 L394.6,438.2 L396.5,433.9 L398.5,429.5 L400.6,425.2 L402.6,420.9 L404.7,416.7 L406.8,412.4 L409.0,408.2 L411.2,404.0 L413.4,399.8 L415.6,395.6 L417.9,391.4 L420.2,387.3 L422.6,383.2 L425.0,379.1 L427.4,375.1 L429.9,371.0 L432.4,367.0 L434.9,363.0 L437.5,359.0 L440.1,355.1 L442.8,351.2 L445.5,347.3 L448.2,343.4 L451.0,339.6 L453.9,335.8 L456.7,332.0 L459.6,328.3 L462.6,324.6 L465.6,320.9 L468.7,317.2 L471.8,313.6 L474.9,310.0 L478.1,306.4 L481.3,302.9 L484.6,299.4 L488.0,296.0 L491.4,292.7 L495.0,289.5 L498.6,286.3 L502.3,283.3 L506.1,280.4 L510.0,277.6 L514.0,274.9 L518.1,272.4 L522.3,270.1 L526.7,267.9 L531.2,265.9 L535.8,264.1 L540.5,262.5 L545.2,261.0 L550.1,259.7 L554.9,258.6 L559.9,257.7 L564.8,257.0 L569.7,256.4 L574.6,256.0 L579.5,255.8 L584.3,255.8 L589.1,255.9 L593.9,256.2 L598.6,256.7 L603.2,257.4 L607.8,258.2 L612.4,259.1 L616.9,260.2 L621.3,261.5 L625.8,262.8 L630.2,264.3 L634.5,266.0 L638.8,267.7 L643.1,269.6 L647.4,271.5 L651.6,273.6 L655.7,275.8 L659.9,278.0 L664.0,280.4 L668.0,282.8 L672.1,285.4 L676.1,287.9 L680.1,290.6 L684.0,293.3 L688.0,296.1 L691.9,298.9 L695.8,301.8 L699.6,304.7 L703.5,307.7 L707.3,310.7 L711.1,313.7 L714.9,316.7 L718.6,319.7 L722.4,322.8 L726.1,325.9 L729.8,329.0 L733.5,332.1 L737.2,335.2 L740.8,338.4 L744.5,341.5 L748.1,344.7 L751.7,347.9 L755.3,351.1 L758.9,354.3 L762.4,357.5 L766.0,360.8 L769.5,364.0 L773.0,367.3 L776.5,370.6 L780.0,373.9 L783.4,377.2 L786.9,380.5 L790.3,383.8 L793.7,387.2 L797.2,390.5 L800.5,393.9 L803.9,397.3 L807.3,400.7 L810.6,404.1 L814.0,407.5 L817.3,411.0 L820.6,414.4 L823.9,417.9 L827.2,421.4 L830.4,424.8 L833.7,428.3 L836.9,431.8 L840.1,435.4 L843.4,438.9 L846.6,442.4 L849.7,446.0 L852.9,449.5 L856.1,453.1 L859.2,456.7 L862.4,460.3 L865.5,463.9 L868.6,467.5 L871.7,471.1 L874.8,474.7 L877.9,478.4 L881.0,482.0 L884.1,485.7 L887.1,489.4 L890.2,493.0 L893.2,496.7 L896.2,500.4 L899.2,504.1 L902.2,507.8 L905.2,511.6 L908.2,515.3 L911.2,519.0 L914.2,522.8 L917.1,526.5 L920.1,530.3 L923.0,534.0 L925.9,537.8 L928.8,541.6 L931.8,545.4 L934.7,549.2 L937.6,553.0 L940.4,556.8 L943.3,560.6 L946.2,564.4 L949.1,568.3 L951.9,572.1 L954.8,575.9 L957.6,579.8 L960.5,583.6 L963.3,587.5 L966.1,591.4 L968.9,595.2 L971.8,599.1 L974.6,603.0 L977.4,606.9 L980.2,610.8 L982.9,614.7 L985.7,618.6 L988.5,622.5 L991.3,626.4 L994.0,630.3 L996.8,634.2 L999.6,638.1 L1002.3,642.0 L1005.1,646.0 L1007.8,649.9 L1010.6,653.8 L1013.3,657.8 L1016.0,661.7 L1018.7,665.7 L1021.5,669.6 L1024.2,673.6 L1026.9,677.5 L1029.6,681.5 L1032.3,685.4 L1035.1,689.4 L1037.8,693.3 L1040.5,697.3 L1043.2,701.3 L1045.9,705.2 L1048.6,709.2 L1051.3,713.2 L1054.0,717.1 L1056.6,721.1 L1059.3,725.1 L1062.0,729.1 L1064.7,733.0 L1067.4,737.0 L1070.1,741.0 L1072.8,745.0 L1075.4,749.0 L1078.1,752.9 L1080.8,756.9 L1083.5,760.9 L1086.1,764.9 L1088.8,768.9 L1091.5,772.9 L1094.2,776.8 L1096.8,780.8 L1099.5,784.8 L1102.2,788.8 L1104.8,792.8 L1107.5,796.8 L1110.2,800.8 L1112.8,804.8 L1115.5,808.8 L1118.1,812.8 L1120.8,816.8 L1123.5,820.8 L1126.1,824.7 L1128.8,828.7 L1131.4,832.7 L1134.1,836.7 L1136.7,840.7 L1139.4,844.7 L1142.1,848.7 L1144.7,852.7 L1147.4,856.7 L1150.0,860.7 L1152.7,864.7 L1155.3,868.7 L1158.0,872.7 L1160.6,876.7 L1163.3,880.7 L1165.9,884.7 L1168.6,888.7 L1171.2,892.7 L1173.9,896.7 L1176.5,900.7 L1179.2,904.7 L1181.8,908.7 L1184.5,912.7 L1187.1,916.7 L1189.8,920.7 L1192.5,924.7 L1195.1,928.7 L1197.8,932.6 L1200.4,936.6 L1203.1,940.6 L1205.7,944.6 L1208.4,948.6 L1211.0,952.6 L1213.7,956.6 L1216.4,960.6 L1219.0,964.6 L1221.7,968.6 L1224.3,972.5 L1227.0,976.5 L1229.7,980.5 L1232.3,984.5 L1235.0,988.5 L1237.7,992.5 L1240.3,996.4 L1243.0,1000.4 L1245.7,1004.4 L1248.3,1008.4 L1251.0,1012.3 L1253.7,1016.3 L1256.3,1020.3 L1259.0,1024.3 L1261.7,1028.2 L1264.4,1032.2 L1267.0,1036.2 L1269.7,1040.1 L1272.4,1044.1 L1275.1,1048.1 L1277.8,1052.0 L1280.5,1056.0 L1283.2,1059.9 L1285.9,1063.9 L1288.5,1067.9 L1291.2,1071.8 L1293.9,1075.8 L1296.6,1079.7 L1299.3,1083.7 L1302.0,1087.6 L1304.7,1091.5 L1307.5,1095.5 L1310.2,1099.4 L1312.9,1103.4 L1315.6,1107.3 L1318.3,1111.2 L1321.0,1115.2 L1323.7,1119.1 L1326.5,1123.0 L1329.2,1126.9 L1331.9,1130.9 L1334.7,1134.8 L1337.4,1138.7 L1340.1,1142.6 L1342.9,1146.5 L1345.6,1150.4 L1348.3,1154.4 L1351.1,1158.3 L1353.8,1162.2 L1356.6,1166.1 L1359.4,1170.0 L1362.1,1173.9 L1364.9,1177.7 L1367.6,1181.6 L1370.4,1185.5 L1373.2,1189.4 L1376.0,1193.3 L1378.7,1197.2 L1381.5,1201.0 L1384.3,1204.9 L1387.1,1208.8 L1389.9,1212.7 L1392.7,1216.5 L1395.5,1220.4 L1398.3,1224.2 L1401.1,1228.1 L1403.9,1231.9 L1406.7,1235.8 L1409.5,1239.6 L1412.3,1243.5 L1415.2,1247.3 L1418.0,1251.1 L1420.8,1255.0 L1423.7,1258.8 L1426.5,1262.6 L1429.3,1266.4 L1432.2,1270.3 L1435.0,1274.1 L1437.9,1277.9 L1440.8,1281.7 L1443.6,1285.5 L1446.5,1289.3 L1449.4,1293.1 L1452.3,1296.9 L1455.2,1300.7 L1458.1,1304.4 L1461.0,1308.2 L1463.9,1312.0 L1466.8,1315.7 L1469.7,1319.5 L1472.7,1323.3 L1475.6,1327.0 L1478.6,1330.8 L1481.5,1334.5 L1484.5,1338.2 L1487.5,1342.0 L1490.5,1345.7 L1493.5,1349.4 L1496.5,1353.1 L1499.5,1356.8 L1502.5,1360.5 L1505.5,1364.2 L1508.6,1367.9 L1511.7,1371.6 L1514.7,1375.3 L1517.8,1378.9 L1520.9,1382.6 L1524.0,1386.2 L1527.1,1389.9 L1530.2,1393.5 L1533.4,1397.2 L1536.5,1400.8 L1539.7,1404.4 L1542.9,1408.0 L1546.1,1411.6 L1549.3,1415.2 L1552.5,1418.8 L1555.7,1422.4 L1559.0,1426.0 L1562.2,1429.5 L1565.5,1433.1 L1568.8,1436.7 L1572.1,1440.2 L1575.4,1443.7 L1578.8,1447.3 L1582.1,1450.8 L1585.5,1454.3 L1588.9,1457.8 L1592.3,1461.3 L1595.7,1464.8 L1599.2,1468.2 L1602.6,1471.7 L1606.1,1475.1 L1609.6,1478.5 L1613.1,1481.9 L1616.6,1485.2 L1620.2,1488.6 L1623.8,1491.9 L1627.4,1495.2 L1631.0,1498.4 L1634.7,1501.6 L1638.3,1504.8 L1642.0,1507.9 L1645.7,1511.0 L1649.5,1514.0 L1653.3,1517.0 L1657.1,1519.9 L1660.9,1522.8 L1664.7,1525.7 L1668.6,1528.4 L1672.5,1531.2 L1676.5,1533.8 L1680.4,1536.4 L1684.4,1539.0 L1688.5,1541.5 L1692.5,1543.9 L1696.6,1546.2 L1700.7,1548.5 L1704.9,1550.7 L1709.1,1552.8 L1713.3,1554.8 L1717.6,1556.8 L1721.9,1558.7 L1726.2,1560.5 L1730.6,1562.2 L1735.0,1563.8 L1739.4,1565.3 L1743.9,1566.7 L1748.4,1568.1 L1753.0,1569.3 L1757.6,1570.4 L1762.2,1571.5 L1766.9,1572.4 L1771.6,1573.2 L1776.3,1574.0 L1781.1,1574.6 L1785.9,1575.0 L1790.7,1575.4 L1795.5,1575.6 L1800.3,1575.7 L1805.1,1575.7 L1809.9,1575.5 L1814.7,1575.2 L1819.4,1574.7 L1824.2,1574.1 L1828.8,1573.3 L1833.5,1572.3 L1838.0,1571.2 L1842.5,1569.9 L1847.0,1568.4 L1851.3,1566.8 L1855.6,1565.0 L1859.9,1563.0 L1864.0,1560.8 L1868.1,1558.6 L1872.2,1556.1 L1876.1,1553.6 L1880.0,1550.9 L1883.8,1548.1 L1887.6,1545.1 L1891.3,1542.1 L1894.9,1539.0 L1898.5,1535.7 L1902.0,1532.4 L1905.5,1529.0 L1908.9,1525.5 L1912.2,1521.9 L1915.5,1518.3 L1918.7,1514.6 L1921.8,1510.8 L1924.9,1507.0 L1928.0,1503.2 L1931.0,1499.3 L1933.9,1495.5 L1936.8,1491.5 L1939.6,1487.6 L1942.4,1483.6 L1945.1,1479.6 L1947.8,1475.6 L1950.4,1471.6 L1953.0,1467.5 L1955.5,1463.4 L1958.0,1459.3 L1960.4,1455.2 L1962.8,1451.0 L1965.2,1446.8 L1967.5,1442.6 L1969.8,1438.4 L1972.0,1434.2 L1974.2,1429.9 L1976.4,1425.7 L1978.5,1421.4 L1980.6,1417.1 L1982.6,1412.7 L1984.7,1408.4 L1986.6,1404.0 L1988.6,1399.7 L1990.5,1395.3 L1992.4,1390.9 L1994.3,1386.5 L1996.1,1382.1 L1998.0,1377.6 L1999.8,1373.2 L2001.5,1368.7 L2003.3,1364.3 L2005.0,1359.8 L2006.7,1355.3 L2008.4,1350.8 L2010.0,1346.3 L2011.7,1341.8 L2013.3,1337.3 L2014.9,1332.8 L2016.5,1328.3 L2018.1,1323.8 L2019.7,1319.2 L2021.2,1314.7 L2022.8,1310.2 L2024.3,1305.6 L2025.8,1301.1 L2027.4,1296.5 L2028.9,1292.0 L2030.4,1287.5 L2031.8,1282.9 L2033.3,1278.3 L2034.8,1273.8 L2036.2,1269.2 L2037.7,1264.7 L2039.1,1260.1 L2040.5,1255.5 L2042.0,1251.0 L2043.4,1246.4 L2044.8,1241.8 L2046.1,1237.2 L2047.5,1232.7 L2048.9,1228.1 L2050.2,1223.5 L2051.6,1218.9 L2052.9,1214.3 L2054.3,1209.7 L2055.6,1205.1 L2056.9,1200.6 L2058.2,1196.0 L2059.5,1191.4 L2060.8,1186.8 L2062.1,1182.2 L2063.3,1177.5 L2064.6,1172.9 L2065.8,1168.3 L2067.1,1163.7 L2068.3,1159.1 L2069.5,1154.5 L2070.7,1149.9 L2071.9,1145.2 L2073.1,1140.6 L2074.3,1136.0 L2075.5,1131.4 L2076.7,1126.7 L2077.8,1122.1 L2079.0,1117.5 L2080.1,1112.8 L2081.3,1108.2 L2082.4,1103.5 L2083.5,1098.9 L2084.6,1094.3 L2085.7,1089.6 L2086.8,1085.0 L2087.9,1080.3 L2089.0,1075.7 L2090.1,1071.0 L2091.2,1066.4 L2092.2,1061.7 L2093.3,1057.0 L2094.3,1052.4 L2095.4,1047.7 L2096.4,1043.1 L2097.4,1038.4 L2098.4,1033.7 L2099.4,1029.0 L2100.4,1024.4 L2101.4,1019.7 L2102.4,1015.0 L2103.4,1010.4 L2104.4,1005.7 L2105.3,1001.0 L2106.3,996.3 L2107.2,991.6 L2108.2,986.9 L2109.1,982.3 L2110.1,977.6 L2111.0,972.9 L2111.9,968.2 L2112.8,963.5 L2113.7,958.8 L2114.6,954.1 L2115.5,949.4 L2116.4,944.7 L2117.3,940.0 L2118.2,935.3 L2119.0,930.6 L2119.9,925.9 L2120.8,921.2 L2121.6,916.5 L2122.5,911.8 L2123.3,907.1 L2124.1,902.4 L2125.0,897.6 L2125.8,892.9 L2126.6,888.2 L2127.4,883.5 L2128.2,878.8 L2129.0,874.1 L2129.8,869.3 L2130.6,864.6 L2131.4,859.9 L2132.2,855.2 L2133.0,850.4 L2133.7,845.7 L2134.5,841.0 L2135.3,836.3 L2136.0,831.5 L2136.8,826.8 L2137.5,822.1 L2138.2,817.3 L2139.0,812.6 L2139.7,807.9 L2140.4,803.1 L2141.2,798.4 L2141.9,793.7 L2142.6,788.9 L2143.3,784.2 L2144.0,779.4 L2144.7,774.7 L2145.4,770.0 L2146.1,765.2 L2146.8,760.5 L2147.5,755.7 L2148.2,751.0 L2148.8,746.2 L2149.5,741.5 L2150.2,736.7 L2150.8,732.0 L2151.5,727.2 L2152.2,722.5 L2152.8,717.7 L2153.5,713.0 L2154.1,708.2 L2154.7,703.5 L2155.4,698.7 L2156.0,694.0 L2156.7,689.2 L2157.3,684.5 L2157.9,679.7 L2158.5,674.9 L2159.2,670.2 L2159.8,665.4 L2160.4,660.7 L2161.0,655.9 L2161.6,651.1 L2162.2,646.4 L2162.8,641.6 L2163.4,636.9 L2164.0,632.1 L2164.6,627.3 L2165.2,622.6 L2165.8,617.8 L2166.4,613.0 L2167.0,608.3 L2167.6,603.5 L2168.1,598.7 L2168.7,594.0 L2169.3,589.2 L2169.9,584.4 L2170.4,579.7 L2171.0,574.9 L2171.6,570.1 L2172.1,565.4 L2172.7,560.6 L2173.3,555.8 L2173.8,551.1 L2174.4,546.3 L2175.0,541.5 L2175.5,536.8 L2176.1,532.0 L2176.6,527.2 L2177.2,522.5 L2177.7,517.7 L2178.3,512.9 L2178.8,508.2 L2179.4,503.4 L2179.9,498.6 L2180.5,493.9 L2181.0,489.1 L2181.6,484.3 L2182.1,479.5 L2182.6,474.8 L2183.2,470.0 L2183.7,465.2 L2184.3,460.5 L2184.8,455.7 L2185.3,450.9 L2185.9,446.2 L2186.4,441.4 L2187.0,436.6 L2187.5,431.9 L2188.0,427.1 L2188.6,422.3 L2189.1,417.6 L2189.6,412.8 L2190.2,408.0 L2190.7,403.2 L2191.2,398.5 L2191.8,393.7 L2192.3,388.9 L2192.9,384.2 L2193.4,379.4 L2193.9,374.7 L2194.5,369.9 L2195.0,365.1 L2195.5,360.4 L2196.1,355.6 L2196.6,350.8 L2197.2,346.1 L2197.7,341.3 L2198.2,336.5 L2198.8,331.8 L2199.3,327.0 L2199.9,322.3 L2200.4,317.5 L2201.0,312.7 L2201.5,308.0 L2202.1,303.2 L2202.6,298.5 L2203.2,293.7 L2203.7,289.0 L2204.3,284.2 L2204.8,279.5 L2205.4,274.7 L2205.9,269.9 L2206.5,265.2 L2207.1,260.4 L2207.6,255.7 L2208.2,250.9 L2208.8,246.2 L2209.3,241.4 L2209.9,236.7 L2210.5,231.9 L2211.0,227.2 L2211.6,222.5 L2212.2,217.7 L2212.8,213.0 L2213.4,208.2 L2213.9,203.5 L2214.5,198.7 L2215.1,194.0 L2215.7,189.3 L2216.3,184.5 L2216.9,179.8 L2217.5,175.0 L2218.1,170.3 L2218.7,165.6 L2219.3,160.8 L2219.9,156.1 L2220.5,151.4 L2221.2,146.6 L2221.8,141.9 L2222.4,137.2 L2223.0,132.5 L2223.7,127.7 L2224.3,123.0 L2224.9,118.3 L2225.6,113.6 L2226.2,108.8 L2226.8,104.1 L2227.5,99.4 L2228.1,94.7 L2228.8,90.0 L2229.5,85.3 L2230.1,80.5 L2230.8,75.8 L2231.5,71.1 L2232.1,66.4 L2232.8,61.7 L2233.5,57.0" fill="none" stroke="#0072BD" stroke-width="14" stroke-linejoin="round"/>
<path d="M259.0,966.4 L259.7,962.0 L260.4,957.5 L261.2,953.0 L261.9,948.6 L262.7,944.1 L263.4,939.7 L264.2,935.2 L265.0,930.7 L265.8,926.3 L266.7,921.8 L267.5,917.4 L268.4,912.9 L269.2,908.5 L270.1,904.1 L271.0,899.6 L271.9,895.2 L272.8,890.7 L273.7,886.3 L274.7,881.9 L275.6,877.4 L276.6,873.0 L277.6,868.6 L278.6,864.1 L279.6,859.7 L280.6,855.3 L281.6,850.9 L282.6,846.5 L283.7,842.1 L284.7,837.7 L285.8,833.2 L286.9,828.8 L288.0,824.4 L289.1,820.0 L290.2,815.6 L291.3,811.2 L292.5,806.8 L293.6,802.5 L294.8,798.1 L295.9,793.7 L297.1,789.3 L298.3,784.9 L299.5,780.5 L300.7,776.2 L302.0,771.8 L303.2,767.4 L304.4,763.1 L305.7,758.7 L307.0,754.4 L308.3,750.0 L309.5,745.6 L310.8,741.3 L312.1,736.9 L313.5,732.6 L314.8,728.3 L316.1,723.9 L317.5,719.6 L318.8,715.3 L320.2,710.9 L321.6,706.6 L323.0,702.3 L324.4,698.0 L325.8,693.7 L327.2,689.3 L328.6,685.0 L330.1,680.7 L331.5,676.4 L333.0,672.1 L334.4,667.8 L335.9,663.6 L337.4,659.3 L338.9,655.0 L340.4,650.7 L341.9,646.4 L343.4,642.2 L344.9,637.9 L346.5,633.6 L348.0,629.4 L349.6,625.1 L351.1,620.9 L352.7,616.6 L354.3,612.4 L355.8,608.1 L357.4,603.9 L359.0,599.7 L360.7,595.4 L362.3,591.2 L363.9,587.0 L365.5,582.8 L367.2,578.6 L368.8,574.3 L370.5,570.1 L372.1,565.9 L373.8,561.7 L375.5,557.6 L377.2,553.4 L378.9,549.2 L380.6,545.0 L382.3,540.8 L384.0,536.7 L385.7,532.5 L387.5,528.3 L389.2,524.2 L391.0,520.0 L392.8,515.9 L394.5,511.8 L396.3,507.7 L398.2,503.5 L400.0,499.4 L401.9,495.3 L403.8,491.3 L405.7,487.2 L407.6,483.1 L409.6,479.1 L411.6,475.0 L413.6,471.0 L415.6,467.0 L417.7,463.0 L419.8,459.0 L421.9,455.1 L424.1,451.1 L426.3,447.2 L428.5,443.3 L430.8,439.4 L433.1,435.5 L435.5,431.6 L437.9,427.8 L440.4,423.9 L442.8,420.1 L445.4,416.4 L448.0,412.6 L450.6,408.8 L453.3,405.1 L456.0,401.4 L458.8,397.8 L461.6,394.1 L464.5,390.5 L467.5,386.9 L470.5,383.3 L473.5,379.8 L476.6,376.3 L479.8,372.9 L483.0,369.5 L486.3,366.1 L489.6,362.8 L493.0,359.6 L496.4,356.4 L499.9,353.3 L503.4,350.2 L507.0,347.3 L510.6,344.4 L514.3,341.6 L518.1,338.8 L521.9,336.2 L525.8,333.7 L529.7,331.2 L533.7,328.8 L537.7,326.6 L541.8,324.4 L545.9,322.4 L550.0,320.4 L554.2,318.6 L558.5,316.9 L562.7,315.3 L567.0,313.9 L571.3,312.5 L575.6,311.3 L579.9,310.3 L584.3,309.3 L588.6,308.5 L592.9,307.9 L597.3,307.3 L601.6,307.0 L605.9,306.7 L610.2,306.7 L614.5,306.7 L618.7,307.0 L623.0,307.3 L627.2,307.8 L631.4,308.4 L635.6,309.1 L639.8,309.9 L644.0,310.9 L648.2,312.0 L652.3,313.2 L656.4,314.4 L660.5,315.8 L664.6,317.3 L668.7,318.9 L672.8,320.6 L676.8,322.4 L680.9,324.2 L684.9,326.2 L688.9,328.2 L692.8,330.2 L696.8,332.4 L700.8,334.6 L704.7,336.9 L708.6,339.3 L712.5,341.7 L716.4,344.1 L720.2,346.6 L724.1,349.1 L727.9,351.7 L731.7,354.4 L735.5,357.0 L739.3,359.7 L743.0,362.4 L746.7,365.2 L750.4,367.9 L754.1,370.7 L757.8,373.5 L761.5,376.3 L765.1,379.1 L768.7,382.0 L772.3,384.9 L775.9,387.7 L779.4,390.6 L783.0,393.5 L786.5,396.4 L790.0,399.4 L793.5,402.3 L797.0,405.3 L800.4,408.3 L803.9,411.3 L807.3,414.3 L810.7,417.3 L814.1,420.4 L817.4,423.4 L820.8,426.5 L824.1,429.6 L827.5,432.7 L830.8,435.8 L834.0,438.9 L837.3,442.0 L840.6,445.2 L843.8,448.3 L847.1,451.5 L850.3,454.7 L853.5,457.9 L856.7,461.1 L859.8,464.3 L863.0,467.6 L866.1,470.8 L869.3,474.1 L872.4,477.3 L875.5,480.6 L878.6,483.9 L881.6,487.2 L884.7,490.6 L887.8,493.9 L890.8,497.2 L893.8,500.6 L896.8,503.9 L899.8,507.3 L902.8,510.7 L905.8,514.1 L908.7,517.5 L911.7,520.9 L914.6,524.3 L917.6,527.7 L920.5,531.2 L923.4,534.6 L926.3,538.1 L929.2,541.6 L932.0,545.0 L934.9,548.5 L937.8,552.0 L940.6,555.5 L943.4,559.1 L946.3,562.6 L949.1,566.1 L951.9,569.6 L954.7,573.2 L957.5,576.7 L960.2,580.3 L963.0,583.9 L965.8,587.4 L968.5,591.0 L971.3,594.6 L974.0,598.2 L976.7,601.8 L979.4,605.4 L982.2,609.0 L984.9,612.7 L987.6,616.3 L990.2,619.9 L992.9,623.6 L995.6,627.2 L998.3,630.9 L1000.9,634.5 L1003.6,638.2 L1006.2,641.9 L1008.9,645.5 L1011.5,649.2 L1014.1,652.9 L1016.8,656.6 L1019.4,660.3 L1022.0,664.0 L1024.6,667.7 L1027.2,671.4 L1029.8,675.1 L1032.4,678.8 L1035.0,682.5 L1037.6,686.3 L1040.2,690.0 L1042.8,693.7 L1045.3,697.5 L1047.9,701.2 L1050.5,704.9 L1053.0,708.7 L1055.6,712.4 L1058.1,716.2 L1060.7,719.9 L1063.3,723.7 L1065.8,727.4 L1068.4,731.2 L1070.9,734.9 L1073.4,738.7 L1076.0,742.4 L1078.5,746.2 L1081.1,750.0 L1083.6,753.7 L1086.1,757.5 L1088.7,761.3 L1091.2,765.0 L1093.7,768.8 L1096.2,772.6 L1098.8,776.3 L1101.3,780.1 L1103.8,783.9 L1106.4,787.6 L1108.9,791.4 L1111.4,795.2 L1114.0,798.9 L1116.5,802.7 L1119.0,806.5 L1121.5,810.2 L1124.1,814.0 L1126.6,817.8 L1129.1,821.5 L1131.7,825.3 L1134.2,829.1 L1136.7,832.8 L1139.3,836.6 L1141.8,840.4 L1144.3,844.1 L1146.9,847.9 L1149.4,851.7 L1151.9,855.4 L1154.5,859.2 L1157.0,862.9 L1159.5,866.7 L1162.1,870.5 L1164.6,874.2 L1167.1,878.0 L1169.7,881.7 L1172.2,885.5 L1174.8,889.2 L1177.3,893.0 L1179.9,896.7 L1182.4,900.5 L1184.9,904.2 L1187.5,908.0 L1190.0,911.7 L1192.6,915.5 L1195.1,919.2 L1197.7,923.0 L1200.2,926.7 L1202.8,930.5 L1205.4,934.2 L1207.9,938.0 L1210.5,941.7 L1213.0,945.4 L1215.6,949.2 L1218.2,952.9 L1220.7,956.6 L1223.3,960.4 L1225.9,964.1 L1228.4,967.8 L1231.0,971.6 L1233.6,975.3 L1236.1,979.0 L1238.7,982.8 L1241.3,986.5 L1243.9,990.2 L1246.5,993.9 L1249.0,997.6 L1251.6,1001.4 L1254.2,1005.1 L1256.8,1008.8 L1259.4,1012.5 L1262.0,1016.2 L1264.6,1019.9 L1267.2,1023.6 L1269.8,1027.3 L1272.4,1031.1 L1275.0,1034.8 L1277.6,1038.5 L1280.2,1042.2 L1282.8,1045.9 L1285.4,1049.6 L1288.0,1053.2 L1290.7,1056.9 L1293.3,1060.6 L1295.9,1064.3 L1298.5,1068.0 L1301.2,1071.7 L1303.8,1075.4 L1306.4,1079.0 L1309.1,1082.7 L1311.7,1086.4 L1314.3,1090.1 L1317.0,1093.7 L1319.6,1097.4 L1322.3,1101.1 L1324.9,1104.7 L1327.6,1108.4 L1330.2,1112.1 L1332.9,1115.7 L1335.6,1119.4 L1338.2,1123.0 L1340.9,1126.7 L1343.6,1130.3 L1346.3,1134.0 L1348.9,1137.6 L1351.6,1141.3 L1354.3,1144.9 L1357.0,1148.5 L1359.7,1152.2 L1362.4,1155.8 L1365.1,1159.4 L1367.8,1163.0 L1370.5,1166.7 L1373.2,1170.3 L1375.9,1173.9 L1378.6,1177.5 L1381.4,1181.1 L1384.1,1184.7 L1386.8,1188.3 L1389.5,1191.9 L1392.3,1195.5 L1395.0,1199.1 L1397.8,1202.7 L1400.5,1206.3 L1403.3,1209.9 L1406.0,1213.5 L1408.8,1217.1 L1411.5,1220.7 L1414.3,1224.2 L1417.1,1227.8 L1419.8,1231.4 L1422.6,1234.9 L1425.4,1238.5 L1428.2,1242.1 L1431.0,1245.6 L1433.8,1249.2 L1436.6,1252.7 L1439.4,1256.3 L1442.2,1259.8 L1445.0,1263.4 L1447.8,1266.9 L1450.6,1270.4 L1453.5,1274.0 L1456.3,1277.5 L1459.1,1281.0 L1462.0,1284.5 L1464.8,1288.0 L1467.7,1291.6 L1470.5,1295.1 L1473.4,1298.6 L1476.2,1302.1 L1479.1,1305.6 L1482.0,1309.1 L1484.9,1312.6 L1487.7,1316.0 L1490.6,1319.5 L1493.5,1323.0 L1496.4,1326.5 L1499.3,1330.0 L1502.2,1333.4 L1505.1,1336.9 L1508.1,1340.3 L1511.0,1343.8 L1514.0,1347.2 L1516.9,1350.6 L1519.9,1354.0 L1522.9,1357.4 L1525.9,1360.8 L1528.9,1364.1 L1532.0,1367.5 L1535.0,1370.8 L1538.1,1374.1 L1541.2,1377.4 L1544.3,1380.7 L1547.4,1384.0 L1550.6,1387.2 L1553.8,1390.4 L1557.0,1393.6 L1560.2,1396.8 L1563.4,1399.9 L1566.7,1403.1 L1570.0,1406.2 L1573.3,1409.2 L1576.7,1412.3 L1580.1,1415.3 L1583.5,1418.3 L1587.0,1421.2 L1590.4,1424.2 L1593.9,1427.1 L1597.5,1429.9 L1601.1,1432.7 L1604.7,1435.5 L1608.3,1438.3 L1612.0,1441.0 L1615.7,1443.7 L1619.5,1446.4 L1623.3,1449.0 L1627.2,1451.6 L1631.0,1454.1 L1635.0,1456.6 L1638.9,1459.0 L1642.9,1461.4 L1647.0,1463.8 L1651.0,1466.1 L1655.1,1468.3 L1659.3,1470.5 L1663.4,1472.6 L1667.6,1474.7 L1671.8,1476.7 L1676.0,1478.6 L1680.3,1480.4 L1684.6,1482.2 L1688.8,1483.9 L1693.1,1485.6 L1697.5,1487.1 L1701.8,1488.6 L1706.1,1489.9 L1710.5,1491.2 L1714.8,1492.4 L1719.2,1493.5 L1723.5,1494.5 L1727.9,1495.4 L1732.2,1496.2 L1736.6,1496.9 L1740.9,1497.5 L1745.3,1497.9 L1749.6,1498.3 L1753.9,1498.5 L1758.3,1498.7 L1762.6,1498.7 L1766.8,1498.6 L1771.1,1498.3 L1775.4,1497.9 L1779.6,1497.4 L1783.8,1496.8 L1788.0,1496.0 L1792.2,1495.1 L1796.3,1494.1 L1800.4,1492.9 L1804.5,1491.6 L1808.5,1490.2 L1812.6,1488.6 L1816.6,1487.0 L1820.5,1485.2 L1824.5,1483.3 L1828.4,1481.3 L1832.2,1479.2 L1836.1,1477.0 L1839.9,1474.7 L1843.6,1472.3 L1847.4,1469.8 L1851.1,1467.2 L1854.7,1464.6 L1858.4,1461.8 L1861.9,1459.0 L1865.5,1456.1 L1869.0,1453.1 L1872.5,1450.0 L1875.9,1446.9 L1879.3,1443.7 L1882.6,1440.5 L1885.9,1437.2 L1889.2,1433.8 L1892.4,1430.4 L1895.5,1426.9 L1898.6,1423.4 L1901.7,1419.9 L1904.7,1416.3 L1907.7,1412.6 L1910.6,1409.0 L1913.5,1405.3 L1916.3,1401.5 L1919.1,1397.8 L1921.8,1394.0 L1924.5,1390.2 L1927.1,1386.4 L1929.6,1382.6 L1932.2,1378.7 L1934.6,1374.9 L1937.1,1371.0 L1939.5,1367.1 L1941.8,1363.1 L1944.1,1359.2 L1946.4,1355.2 L1948.6,1351.3 L1950.8,1347.3 L1952.9,1343.3 L1955.0,1339.3 L1957.1,1335.2 L1959.1,1331.2 L1961.1,1327.1 L1963.1,1323.0 L1965.1,1318.9 L1967.0,1314.8 L1968.9,1310.7 L1970.7,1306.6 L1972.6,1302.5 L1974.4,1298.3 L1976.2,1294.2 L1978.0,1290.0 L1979.7,1285.9 L1981.4,1281.7 L1983.1,1277.5 L1984.8,1273.3 L1986.5,1269.1 L1988.2,1264.9 L1989.8,1260.7 L1991.5,1256.5 L1993.1,1252.3 L1994.7,1248.1 L1996.3,1243.9 L1997.9,1239.6 L1999.5,1235.4 L2001.0,1231.2 L2002.6,1226.9 L2004.2,1222.7 L2005.7,1218.5 L2007.2,1214.2 L2008.8,1210.0 L2010.3,1205.7 L2011.8,1201.5 L2013.3,1197.2 L2014.8,1193.0 L2016.3,1188.7 L2017.8,1184.4 L2019.2,1180.2 L2020.7,1175.9 L2022.2,1171.6 L2023.6,1167.3 L2025.0,1163.1 L2026.5,1158.8 L2027.9,1154.5 L2029.3,1150.2 L2030.7,1145.9 L2032.1,1141.6 L2033.5,1137.3 L2034.8,1133.1 L2036.2,1128.8 L2037.6,1124.5 L2038.9,1120.1 L2040.3,1115.8 L2041.6,1111.5 L2042.9,1107.2 L2044.3,1102.9 L2045.6,1098.6 L2046.9,1094.3 L2048.2,1089.9 L2049.5,1085.6 L2050.8,1081.3 L2052.0,1077.0 L2053.3,1072.6 L2054.6,1068.3 L2055.8,1064.0 L2057.1,1059.6 L2058.3,1055.3 L2059.6,1050.9 L2060.8,1046.6 L2062.0,1042.2 L2063.2,1037.9 L2064.4,1033.5 L2065.6,1029.2 L2066.8,1024.8 L2068.0,1020.5 L2069.2,1016.1 L2070.3,1011.7 L2071.5,1007.4 L2072.7,1003.0 L2073.8,998.6 L2074.9,994.3 L2076.1,989.9 L2077.2,985.5 L2078.3,981.1 L2079.5,976.8 L2080.6,972.4 L2081.7,968.0 L2082.8,963.6 L2083.9,959.2 L2084.9,954.8 L2086.0,950.4 L2087.1,946.0 L2088.2,941.7 L2089.2,937.3 L2090.3,932.9 L2091.3,928.5 L2092.4,924.0 L2093.4,919.6 L2094.4,915.2 L2095.4,910.8 L2096.5,906.4 L2097.5,902.0 L2098.5,897.6 L2099.5,893.2 L2100.5,888.8 L2101.5,884.3 L2102.5,879.9 L2103.4,875.5 L2104.4,871.1 L2105.4,866.6 L2106.3,862.2 L2107.3,857.8 L2108.2,853.4 L2109.2,848.9 L2110.1,844.5 L2111.1,840.1 L2112.0,835.6 L2112.9,831.2 L2113.8,826.8 L2114.8,822.3 L2115.7,817.9 L2116.6,813.4 L2117.5,809.0 L2118.4,804.5 L2119.3,800.1 L2120.1,795.6 L2121.0,791.2 L2121.9,786.7 L2122.8,782.3 L2123.6,777.8 L2124.5,773.4 L2125.4,768.9 L2126.2,764.5 L2127.1,760.0 L2127.9,755.6 L2128.7,751.1 L2129.6,746.6 L2130.4,742.2 L2131.2,737.7 L2132.1,733.2 L2132.9,728.8 L2133.7,724.3 L2134.5,719.8 L2135.3,715.4 L2136.1,710.9 L2136.9,706.4 L2137.7,702.0 L2138.5,697.5 L2139.3,693.0 L2140.1,688.5 L2140.9,684.1 L2141.6,679.6 L2142.4,675.1 L2143.2,670.6 L2143.9,666.2 L2144.7,661.7 L2145.5,657.2 L2146.2,652.7 L2147.0,648.2 L2147.7,643.7 L2148.5,639.3 L2149.2,634.8 L2149.9,630.3 L2150.7,625.8 L2151.4,621.3 L2152.1,616.8 L2152.9,612.4 L2153.6,607.9 L2154.3,603.4 L2155.0,598.9 L2155.8,594.4 L2156.5,589.9 L2157.2,585.4 L2157.9,580.9 L2158.6,576.4 L2159.3,571.9 L2160.0,567.5 L2160.7,563.0 L2161.4,558.5 L2162.1,554.0 L2162.8,549.5 L2163.4,545.0 L2164.1,540.5 L2164.8,536.0 L2165.5,531.5 L2166.2,527.0 L2166.8,522.5 L2167.5,518.0 L2168.2,513.5 L2168.9,509.0 L2169.5,504.5 L2170.2,500.0 L2170.9,495.5 L2171.5,491.0 L2172.2,486.5 L2172.8,482.0 L2173.5,477.5 L2174.1,473.1 L2174.8,468.6 L2175.4,464.1 L2176.1,459.6 L2176.7,455.1 L2177.4,450.6 L2178.0,446.1 L2178.7,441.6 L2179.3,437.1 L2180.0,432.6 L2180.6,428.1 L2181.2,423.6 L2181.9,419.1 L2182.5,414.6 L2183.2,410.1 L2183.8,405.6 L2184.4,401.1 L2185.0,396.6 L2185.7,392.1 L2186.3,387.6 L2186.9,383.1 L2187.6,378.6 L2188.2,374.1 L2188.8,369.6 L2189.5,365.2 L2190.1,360.7 L2190.7,356.2 L2191.3,351.7 L2192.0,347.2 L2192.6,342.7 L2193.2,338.2 L2193.8,333.7 L2194.4,329.2 L2195.1,324.7 L2195.7,320.2 L2196.3,315.8 L2196.9,311.3 L2197.6,306.8 L2198.2,302.3 L2198.8,297.8 L2199.4,293.3 L2200.0,288.8 L2200.7,284.4 L2201.3,279.9 L2201.9,275.4 L2202.5,270.9 L2203.2,266.4 L2203.8,262.0 L2204.4,257.5 L2205.0,253.0 L2205.6,248.5 L2206.3,244.0 L2206.9,239.6 L2207.5,235.1 L2208.1,230.6 L2208.8,226.1 L2209.4,221.7 L2210.0,217.2 L2210.7,212.7 L2211.3,208.3 L2211.9,203.8 L2212.6,199.3 L2213.2,194.9 L2213.8,190.4 L2214.5,185.9 L2215.1,181.5 L2215.7,177.0 L2216.4,172.5 L2217.0,168.1 L2217.6,163.6 L2218.3,159.2 L2218.9,154.7 L2219.6,150.3 L2220.2,145.8 L2220.9,141.3 L2221.5,136.9 L2222.2,132.4 L2222.8,128.0 L2223.5,123.5 L2224.1,119.1 L2224.8,114.7 L2225.4,110.2 L2226.1,105.8 L2226.8,101.3 L2227.4,96.9 L2228.1,92.5 L2228.8,88.0 L2229.4,83.6 L2230.1,79.1 L2230.8,74.7 L2231.5,70.3 L2232.1,65.9 L2232.8,61.4 L2233.5,57.0" fill="none" stroke="#0072BD" stroke-width="14" stroke-linejoin="round" stroke-dasharray="13.3 10.8"/>
<path d="M259.0,966.4 L260.1,962.5 L261.2,958.6 L262.3,954.7 L263.4,950.9 L264.5,947.0 L265.6,943.1 L266.7,939.2 L267.8,935.4 L268.9,931.5 L270.0,927.7 L271.2,923.8 L272.3,920.0 L273.4,916.2 L274.6,912.3 L275.7,908.5 L276.9,904.7 L278.1,900.9 L279.2,897.1 L280.4,893.3 L281.6,889.5 L282.8,885.7 L284.0,882.0 L285.2,878.2 L286.4,874.4 L287.6,870.7 L288.8,866.9 L290.0,863.2 L291.2,859.4 L292.5,855.7 L293.7,852.0 L295.0,848.3 L296.2,844.5 L297.5,840.8 L298.8,837.1 L300.1,833.4 L301.4,829.7 L302.7,826.0 L304.0,822.4 L305.3,818.7 L306.6,815.0 L308.0,811.4 L309.3,807.7 L310.6,804.0 L312.0,800.4 L313.4,796.8 L314.7,793.1 L316.1,789.5 L317.5,785.9 L318.9,782.2 L320.4,778.6 L321.8,775.0 L323.2,771.4 L324.7,767.8 L326.1,764.2 L327.6,760.6 L329.1,757.0 L330.5,753.4 L332.0,749.9 L333.5,746.3 L335.1,742.7 L336.6,739.2 L338.1,735.6 L339.7,732.1 L341.3,728.5 L342.8,725.0 L344.4,721.5 L346.0,717.9 L347.6,714.4 L349.2,710.9 L350.9,707.4 L352.5,703.8 L354.2,700.3 L355.8,696.8 L357.5,693.3 L359.2,689.9 L360.9,686.4 L362.7,682.9 L364.4,679.4 L366.1,675.9 L367.9,672.5 L369.7,669.0 L371.5,665.5 L373.3,662.1 L375.1,658.6 L376.9,655.2 L378.7,651.7 L380.6,648.3 L382.5,644.9 L384.3,641.4 L386.2,638.0 L388.2,634.6 L390.1,631.2 L392.0,627.7 L394.0,624.3 L396.0,620.9 L398.0,617.5 L400.0,614.1 L402.0,610.7 L404.0,607.3 L406.1,604.0 L408.1,600.6 L410.2,597.2 L412.3,593.8 L414.4,590.5 L416.6,587.1 L418.7,583.8 L420.9,580.4 L423.1,577.1 L425.3,573.8 L427.5,570.5 L429.8,567.2 L432.1,564.0 L434.4,560.7 L436.7,557.5 L439.0,554.3 L441.4,551.1 L443.8,548.0 L446.2,544.9 L448.7,541.8 L451.2,538.7 L453.7,535.6 L456.2,532.6 L458.8,529.6 L461.4,526.7 L464.0,523.8 L466.7,520.9 L469.4,518.1 L472.1,515.3 L474.9,512.5 L477.7,509.8 L480.5,507.1 L483.4,504.4 L486.3,501.8 L489.2,499.3 L492.2,496.8 L495.2,494.3 L498.3,491.9 L501.4,489.6 L504.5,487.2 L507.7,485.0 L510.9,482.8 L514.1,480.7 L517.4,478.6 L520.8,476.5 L524.1,474.6 L527.6,472.7 L531.0,470.8 L534.5,469.0 L538.0,467.3 L541.6,465.6 L545.2,464.0 L548.8,462.4 L552.5,461.0 L556.2,459.5 L559.9,458.2 L563.6,456.9 L567.4,455.6 L571.1,454.5 L574.9,453.3 L578.7,452.3 L582.6,451.3 L586.4,450.4 L590.3,449.6 L594.2,448.8 L598.1,448.1 L601.9,447.4 L605.9,446.9 L609.8,446.3 L613.7,445.9 L617.6,445.5 L621.5,445.2 L625.5,445.0 L629.4,444.8 L633.3,444.7 L637.2,444.7 L641.1,444.8 L645.0,444.9 L648.9,445.1 L652.8,445.4 L656.7,445.7 L660.6,446.1 L664.4,446.6 L668.2,447.2 L672.1,447.8 L675.9,448.6 L679.6,449.4 L683.4,450.2 L687.1,451.2 L690.8,452.2 L694.5,453.3 L698.2,454.4 L701.9,455.7 L705.5,457.0 L709.1,458.3 L712.7,459.7 L716.3,461.2 L719.9,462.7 L723.4,464.3 L726.9,466.0 L730.4,467.7 L733.9,469.4 L737.4,471.2 L740.9,473.1 L744.3,474.9 L747.7,476.9 L751.1,478.8 L754.5,480.9 L757.9,482.9 L761.3,485.0 L764.6,487.1 L768.0,489.3 L771.3,491.4 L774.6,493.6 L777.9,495.9 L781.2,498.1 L784.5,500.4 L787.7,502.7 L791.0,505.0 L794.2,507.4 L797.5,509.7 L800.7,512.1 L803.9,514.5 L807.1,516.9 L810.3,519.3 L813.5,521.7 L816.6,524.1 L819.8,526.5 L822.9,528.9 L826.1,531.3 L829.2,533.8 L832.3,536.2 L835.5,538.7 L838.6,541.2 L841.7,543.6 L844.8,546.1 L847.8,548.6 L850.9,551.1 L854.0,553.6 L857.0,556.1 L860.1,558.6 L863.1,561.2 L866.1,563.7 L869.1,566.2 L872.2,568.8 L875.2,571.3 L878.2,573.9 L881.1,576.5 L884.1,579.0 L887.1,581.6 L890.1,584.2 L893.0,586.8 L896.0,589.4 L898.9,592.0 L901.8,594.6 L904.8,597.2 L907.7,599.9 L910.6,602.5 L913.5,605.1 L916.4,607.8 L919.3,610.4 L922.2,613.1 L925.0,615.8 L927.9,618.4 L930.8,621.1 L933.6,623.8 L936.5,626.5 L939.3,629.2 L942.1,631.9 L945.0,634.6 L947.8,637.3 L950.6,640.0 L953.4,642.7 L956.2,645.4 L959.0,648.2 L961.8,650.9 L964.6,653.7 L967.4,656.4 L970.1,659.2 L972.9,661.9 L975.7,664.7 L978.4,667.4 L981.2,670.2 L983.9,673.0 L986.7,675.8 L989.4,678.6 L992.1,681.3 L994.9,684.1 L997.6,686.9 L1000.3,689.7 L1003.0,692.6 L1005.7,695.4 L1008.4,698.2 L1011.1,701.0 L1013.8,703.8 L1016.5,706.7 L1019.2,709.5 L1021.9,712.3 L1024.5,715.2 L1027.2,718.0 L1029.9,720.9 L1032.5,723.7 L1035.2,726.6 L1037.8,729.4 L1040.5,732.3 L1043.1,735.2 L1045.8,738.1 L1048.4,740.9 L1051.1,743.8 L1053.7,746.7 L1056.3,749.6 L1058.9,752.5 L1061.6,755.4 L1064.2,758.3 L1066.8,761.1 L1069.4,764.0 L1072.0,767.0 L1074.6,769.9 L1077.2,772.8 L1079.8,775.7 L1082.4,778.6 L1085.0,781.5 L1087.6,784.4 L1090.2,787.4 L1092.8,790.3 L1095.4,793.2 L1097.9,796.1 L1100.5,799.1 L1103.1,802.0 L1105.7,804.9 L1108.3,807.9 L1110.8,810.8 L1113.4,813.8 L1116.0,816.7 L1118.5,819.7 L1121.1,822.6 L1123.7,825.6 L1126.2,828.5 L1128.8,831.5 L1131.3,834.4 L1133.9,837.4 L1136.5,840.3 L1139.0,843.3 L1141.6,846.3 L1144.1,849.2 L1146.7,852.2 L1149.2,855.2 L1151.8,858.1 L1154.3,861.1 L1156.9,864.1 L1159.4,867.0 L1162.0,870.0 L1164.5,873.0 L1167.1,876.0 L1169.6,878.9 L1172.2,881.9 L1174.7,884.9 L1177.3,887.9 L1179.8,890.8 L1182.3,893.8 L1184.9,896.8 L1187.4,899.8 L1190.0,902.7 L1192.5,905.7 L1195.1,908.7 L1197.6,911.7 L1200.2,914.7 L1202.7,917.6 L1205.3,920.6 L1207.8,923.6 L1210.4,926.6 L1212.9,929.6 L1215.5,932.5 L1218.0,935.5 L1220.6,938.5 L1223.2,941.5 L1225.7,944.5 L1228.3,947.4 L1230.8,950.4 L1233.4,953.4 L1236.0,956.4 L1238.5,959.3 L1241.1,962.3 L1243.7,965.3 L1246.3,968.2 L1248.8,971.2 L1251.4,974.2 L1254.0,977.2 L1256.6,980.1 L1259.1,983.1 L1261.7,986.1 L1264.3,989.0 L1266.9,992.0 L1269.5,994.9 L1272.1,997.9 L1274.7,1000.9 L1277.3,1003.8 L1279.9,1006.8 L1282.5,1009.7 L1285.1,1012.7 L1287.7,1015.6 L1290.3,1018.6 L1293.0,1021.5 L1295.6,1024.5 L1298.2,1027.4 L1300.8,1030.3 L1303.5,1033.3 L1306.1,1036.2 L1308.7,1039.1 L1311.4,1042.1 L1314.0,1045.0 L1316.7,1047.9 L1319.3,1050.9 L1322.0,1053.8 L1324.7,1056.7 L1327.3,1059.6 L1330.0,1062.5 L1332.7,1065.4 L1335.4,1068.3 L1338.0,1071.2 L1340.7,1074.1 L1343.4,1077.0 L1346.1,1079.9 L1348.8,1082.8 L1351.5,1085.7 L1354.2,1088.6 L1357.0,1091.5 L1359.7,1094.4 L1362.4,1097.2 L1365.1,1100.1 L1367.9,1103.0 L1370.6,1105.8 L1373.4,1108.7 L1376.1,1111.6 L1378.9,1114.4 L1381.6,1117.3 L1384.4,1120.1 L1387.2,1123.0 L1390.0,1125.8 L1392.8,1128.6 L1395.6,1131.5 L1398.4,1134.3 L1401.2,1137.1 L1404.0,1139.9 L1406.8,1142.7 L1409.6,1145.5 L1412.5,1148.3 L1415.3,1151.1 L1418.1,1153.9 L1421.0,1156.6 L1423.9,1159.4 L1426.7,1162.2 L1429.6,1164.9 L1432.5,1167.6 L1435.4,1170.3 L1438.3,1173.0 L1441.2,1175.7 L1444.1,1178.4 L1447.0,1181.1 L1450.0,1183.8 L1452.9,1186.4 L1455.9,1189.0 L1458.8,1191.6 L1461.8,1194.2 L1464.8,1196.8 L1467.8,1199.4 L1470.8,1202.0 L1473.8,1204.5 L1476.8,1207.0 L1479.9,1209.5 L1482.9,1212.0 L1486.0,1214.5 L1489.0,1216.9 L1492.1,1219.3 L1495.2,1221.7 L1498.3,1224.1 L1501.4,1226.5 L1504.5,1228.8 L1507.6,1231.1 L1510.8,1233.4 L1513.9,1235.7 L1517.1,1238.0 L1520.3,1240.2 L1523.5,1242.4 L1526.7,1244.6 L1529.9,1246.7 L1533.1,1248.9 L1536.4,1251.0 L1539.6,1253.1 L1542.9,1255.1 L1546.2,1257.1 L1549.5,1259.1 L1552.8,1261.1 L1556.1,1263.0 L1559.5,1264.9 L1562.8,1266.8 L1566.2,1268.7 L1569.6,1270.5 L1573.0,1272.3 L1576.4,1274.0 L1579.8,1275.8 L1583.2,1277.5 L1586.7,1279.1 L1590.2,1280.7 L1593.7,1282.3 L1597.2,1283.9 L1600.7,1285.4 L1604.2,1286.9 L1607.8,1288.4 L1611.3,1289.8 L1614.9,1291.2 L1618.5,1292.5 L1622.1,1293.8 L1625.8,1295.1 L1629.4,1296.3 L1633.1,1297.5 L1636.8,1298.7 L1640.5,1299.8 L1644.2,1300.8 L1647.9,1301.9 L1651.7,1302.9 L1655.5,1303.8 L1659.3,1304.7 L1663.1,1305.6 L1666.9,1306.4 L1670.8,1307.2 L1674.6,1307.9 L1678.5,1308.6 L1682.4,1309.2 L1686.3,1309.8 L1690.2,1310.4 L1694.1,1310.8 L1698.1,1311.2 L1702.0,1311.6 L1706.0,1311.9 L1709.9,1312.1 L1713.8,1312.3 L1717.8,1312.3 L1721.7,1312.3 L1725.7,1312.3 L1729.6,1312.1 L1733.5,1311.9 L1737.4,1311.6 L1741.4,1311.2 L1745.2,1310.7 L1749.1,1310.2 L1753.0,1309.5 L1756.8,1308.8 L1760.7,1307.9 L1764.5,1307.0 L1768.3,1305.9 L1772.0,1304.8 L1775.8,1303.6 L1779.5,1302.2 L1783.2,1300.8 L1786.8,1299.3 L1790.5,1297.8 L1794.1,1296.1 L1797.6,1294.4 L1801.2,1292.6 L1804.7,1290.7 L1808.2,1288.7 L1811.6,1286.7 L1815.1,1284.6 L1818.4,1282.5 L1821.8,1280.2 L1825.1,1278.0 L1828.4,1275.7 L1831.6,1273.3 L1834.8,1270.9 L1838.0,1268.4 L1841.1,1265.9 L1844.2,1263.3 L1847.2,1260.7 L1850.2,1258.1 L1853.1,1255.4 L1856.0,1252.7 L1858.9,1250.0 L1861.7,1247.2 L1864.5,1244.4 L1867.2,1241.5 L1869.9,1238.6 L1872.6,1235.7 L1875.2,1232.8 L1877.8,1229.9 L1880.3,1226.9 L1882.9,1223.8 L1885.3,1220.8 L1887.8,1217.7 L1890.2,1214.6 L1892.6,1211.5 L1895.0,1208.4 L1897.3,1205.2 L1899.6,1202.1 L1901.9,1198.9 L1904.2,1195.6 L1906.4,1192.4 L1908.6,1189.1 L1910.8,1185.9 L1912.9,1182.6 L1915.1,1179.3 L1917.2,1176.0 L1919.3,1172.6 L1921.4,1169.3 L1923.4,1165.9 L1925.5,1162.6 L1927.5,1159.2 L1929.5,1155.8 L1931.5,1152.4 L1933.5,1149.0 L1935.5,1145.6 L1937.5,1142.2 L1939.4,1138.8 L1941.3,1135.4 L1943.3,1132.0 L1945.2,1128.5 L1947.1,1125.1 L1949.0,1121.7 L1950.8,1118.2 L1952.7,1114.8 L1954.6,1111.3 L1956.4,1107.9 L1958.2,1104.4 L1960.1,1100.9 L1961.9,1097.5 L1963.7,1094.0 L1965.5,1090.5 L1967.3,1087.0 L1969.0,1083.5 L1970.8,1080.0 L1972.5,1076.5 L1974.3,1073.0 L1976.0,1069.5 L1977.7,1066.0 L1979.4,1062.5 L1981.1,1058.9 L1982.8,1055.4 L1984.5,1051.9 L1986.1,1048.3 L1987.8,1044.8 L1989.4,1041.2 L1991.0,1037.7 L1992.7,1034.1 L1994.3,1030.6 L1995.9,1027.0 L1997.5,1023.4 L1999.1,1019.9 L2000.6,1016.3 L2002.2,1012.7 L2003.7,1009.1 L2005.3,1005.5 L2006.8,1001.9 L2008.3,998.3 L2009.9,994.7 L2011.4,991.1 L2012.9,987.5 L2014.3,983.9 L2015.8,980.3 L2017.3,976.7 L2018.8,973.0 L2020.2,969.4 L2021.6,965.8 L2023.1,962.1 L2024.5,958.5 L2025.9,954.9 L2027.3,951.2 L2028.7,947.6 L2030.1,943.9 L2031.5,940.2 L2032.9,936.6 L2034.2,932.9 L2035.6,929.2 L2036.9,925.6 L2038.3,921.9 L2039.6,918.2 L2040.9,914.5 L2042.2,910.8 L2043.5,907.2 L2044.8,903.5 L2046.1,899.8 L2047.4,896.1 L2048.7,892.4 L2049.9,888.7 L2051.2,884.9 L2052.4,881.2 L2053.7,877.5 L2054.9,873.8 L2056.1,870.1 L2057.3,866.3 L2058.6,862.6 L2059.8,858.9 L2061.0,855.2 L2062.1,851.4 L2063.3,847.7 L2064.5,843.9 L2065.7,840.2 L2066.8,836.4 L2068.0,832.7 L2069.1,828.9 L2070.3,825.2 L2071.4,821.4 L2072.5,817.6 L2073.6,813.9 L2074.7,810.1 L2075.9,806.3 L2077.0,802.6 L2078.0,798.8 L2079.1,795.0 L2080.2,791.2 L2081.3,787.5 L2082.3,783.7 L2083.4,779.9 L2084.5,776.1 L2085.5,772.3 L2086.5,768.5 L2087.6,764.7 L2088.6,760.9 L2089.6,757.1 L2090.7,753.3 L2091.7,749.5 L2092.7,745.7 L2093.7,741.9 L2094.7,738.1 L2095.7,734.3 L2096.6,730.4 L2097.6,726.6 L2098.6,722.8 L2099.6,719.0 L2100.5,715.1 L2101.5,711.3 L2102.4,707.5 L2103.4,703.7 L2104.3,699.8 L2105.3,696.0 L2106.2,692.2 L2107.1,688.3 L2108.0,684.5 L2109.0,680.6 L2109.9,676.8 L2110.8,673.0 L2111.7,669.1 L2112.6,665.3 L2113.5,661.4 L2114.4,657.6 L2115.2,653.7 L2116.1,649.9 L2117.0,646.0 L2117.9,642.2 L2118.7,638.3 L2119.6,634.4 L2120.5,630.6 L2121.3,626.7 L2122.2,622.9 L2123.0,619.0 L2123.8,615.1 L2124.7,611.3 L2125.5,607.4 L2126.4,603.5 L2127.2,599.7 L2128.0,595.8 L2128.8,591.9 L2129.6,588.1 L2130.5,584.2 L2131.3,580.3 L2132.1,576.4 L2132.9,572.6 L2133.7,568.7 L2134.5,564.8 L2135.3,560.9 L2136.1,557.1 L2136.8,553.2 L2137.6,549.3 L2138.4,545.4 L2139.2,541.5 L2140.0,537.7 L2140.7,533.8 L2141.5,529.9 L2142.3,526.0 L2143.1,522.1 L2143.8,518.2 L2144.6,514.3 L2145.3,510.5 L2146.1,506.6 L2146.8,502.7 L2147.6,498.8 L2148.3,494.9 L2149.1,491.0 L2149.8,487.1 L2150.6,483.3 L2151.3,479.4 L2152.1,475.5 L2152.8,471.6 L2153.5,467.7 L2154.3,463.8 L2155.0,459.9 L2155.7,456.0 L2156.5,452.2 L2157.2,448.3 L2157.9,444.4 L2158.6,440.5 L2159.4,436.6 L2160.1,432.7 L2160.8,428.8 L2161.5,424.9 L2162.2,421.0 L2163.0,417.2 L2163.7,413.3 L2164.4,409.4 L2165.1,405.5 L2165.8,401.6 L2166.5,397.7 L2167.3,393.8 L2168.0,390.0 L2168.7,386.1 L2169.4,382.2 L2170.1,378.3 L2170.8,374.4 L2171.5,370.6 L2172.2,366.7 L2172.9,362.8 L2173.6,358.9 L2174.3,355.0 L2175.1,351.2 L2175.8,347.3 L2176.5,343.4 L2177.2,339.5 L2177.9,335.6 L2178.6,331.8 L2179.3,327.9 L2180.0,324.0 L2180.7,320.2 L2181.4,316.3 L2182.1,312.4 L2182.8,308.6 L2183.6,304.7 L2184.3,300.8 L2185.0,297.0 L2185.7,293.1 L2186.4,289.2 L2187.1,285.4 L2187.8,281.5 L2188.5,277.6 L2189.3,273.8 L2190.0,269.9 L2190.7,266.1 L2191.4,262.2 L2192.1,258.4 L2192.9,254.5 L2193.6,250.7 L2194.3,246.8 L2195.0,243.0 L2195.8,239.1 L2196.5,235.3 L2197.2,231.5 L2198.0,227.6 L2198.7,223.8 L2199.4,219.9 L2200.2,216.1 L2200.9,212.3 L2201.6,208.4 L2202.4,204.6 L2203.1,200.8 L2203.9,197.0 L2204.6,193.1 L2205.4,189.3 L2206.1,185.5 L2206.9,181.7 L2207.7,177.9 L2208.4,174.0 L2209.2,170.2 L2209.9,166.4 L2210.7,162.6 L2211.5,158.8 L2212.3,155.0 L2213.0,151.2 L2213.8,147.4 L2214.6,143.6 L2215.4,139.8 L2216.2,136.0 L2217.0,132.2 L2217.8,128.5 L2218.6,124.7 L2219.4,120.9 L2220.2,117.1 L2221.0,113.3 L2221.8,109.6 L2222.6,105.8 L2223.4,102.0 L2224.2,98.3 L2225.0,94.5 L2225.9,90.7 L2226.7,87.0 L2227.5,83.2 L2228.4,79.5 L2229.2,75.7 L2230.1,72.0 L2230.9,68.2 L2231.8,64.5 L2232.6,60.7 L2233.5,57.0" fill="none" stroke="#EDB120" stroke-width="14" stroke-linejoin="round" stroke-dasharray="13.3 10.8"/>
<g font-family="Liberation Sans, Arial, Helvetica, sans-serif" font-weight="bold" font-size="67" fill="#262626">
<text x="229" y="83.0" text-anchor="end">1</text>
<text x="229" y="264.9" text-anchor="end">0.8</text>
<text x="229" y="446.8" text-anchor="end">0.6</text>
<text x="229" y="628.7" text-anchor="end">0.4</text>
<text x="229" y="810.6" text-anchor="end">0.2</text>
<text x="229" y="992.4" text-anchor="end">0</text>
<text x="229" y="1174.3" text-anchor="end">-0.2</text>
<text x="229" y="1356.2" text-anchor="end">-0.4</text>
<text x="229" y="1538.1" text-anchor="end">-0.6</text>
<text x="229" y="1720.0" text-anchor="end">-0.8</text>
<text x="259.0" y="1789" text-anchor="middle">-1</text>
<text x="752.6" y="1789" text-anchor="middle">-0.5</text>
<text x="1246.2" y="1789" text-anchor="middle">0</text>
<text x="1739.9" y="1789" text-anchor="middle">0.5</text>
<text x="2233.5" y="1789" text-anchor="middle">1</text>
</g>
<rect x="194.7" y="75.2" width="12.4" height="8.6" fill="#fff"/><rect x="216.9" y="75.2" width="11.6" height="8.6" fill="#fff"/>
<rect x="254.5" y="1781.2" width="12.4" height="8.6" fill="#fff"/><rect x="276.7" y="1781.2" width="11.6" height="8.6" fill="#fff"/>
<rect x="2217.9" y="1781.2" width="12.4" height="8.6" fill="#fff"/><rect x="2240.1" y="1781.2" width="11.6" height="8.6" fill="#fff"/>
<text transform="translate(1248.7,1895) scale(1.19,1)" text-anchor="middle" font-family="Liberation Serif, Times New Roman, serif" font-style="italic" font-weight="bold" font-size="76" fill="#262626">η</text>
<text transform="translate(75.5,877) rotate(-90)" text-anchor="middle" font-family="Liberation Sans, Arial, Helvetica, sans-serif" font-weight="bold" font-size="80" fill="#262626">g</text>
<line x1="1553" y1="200.8" x2="1727" y2="200.8" stroke="#0072BD" stroke-width="15"/>
<line x1="1552.9" y1="268.5" x2="1730.8" y2="268.5" stroke="#0072BD" stroke-width="15" stroke-dasharray="13.1 11.05" stroke-dashoffset="4.05"/>
<text transform="translate(1771.75,221.5) scale(0.953,1)" font-size="69.5" font-family="Liberation Serif, Times New Roman, Times, serif" font-weight="bold" fill="#000">Re&gt;&gt;1</text>
<text transform="translate(1771.75,302.5) scale(0.953,1)" font-size="69.5" font-family="Liberation Serif, Times New Roman, Times, serif" font-weight="bold" fill="#000">Re&lt;&lt;1</text>
<text transform="translate(1513.6,987) scale(0.95,1)" font-size="71" font-family="Liberation Serif, Times New Roman, Times, serif" font-weight="bold" fill="#000">N</text>
<text transform="translate(1566,1018) scale(0.95,1)" font-size="55" font-family="Liberation Serif, Times New Roman, Times, serif" font-weight="bold" fill="#000">1</text>
<text transform="translate(1609.2,992.5) scale(1.05,1)" font-size="71" font-family="Liberation Serif, Times New Roman, Times, serif" font-weight="bold" fill="#000">=</text>
<text transform="translate(1664,987) scale(0.95,1)" font-size="71" font-family="Liberation Serif, Times New Roman, Times, serif" font-weight="bold" fill="#000">2,3,5</text>
<line x1="565.0" y1="661.0" x2="759.2" y2="262.4" stroke="#000" stroke-width="11"/><polygon points="782.8,213.9 775.5,288.2 759.2,262.4 728.8,265.4" fill="#000"/>
<line x1="1743.0" y1="1062.0" x2="1893.1" y2="1603.5" stroke="#000" stroke-width="11"/><polygon points="1907.5,1655.5 1863.7,1595.0 1893.1,1603.5 1913.9,1581.1" fill="#000"/>
</svg>
</body></html>
